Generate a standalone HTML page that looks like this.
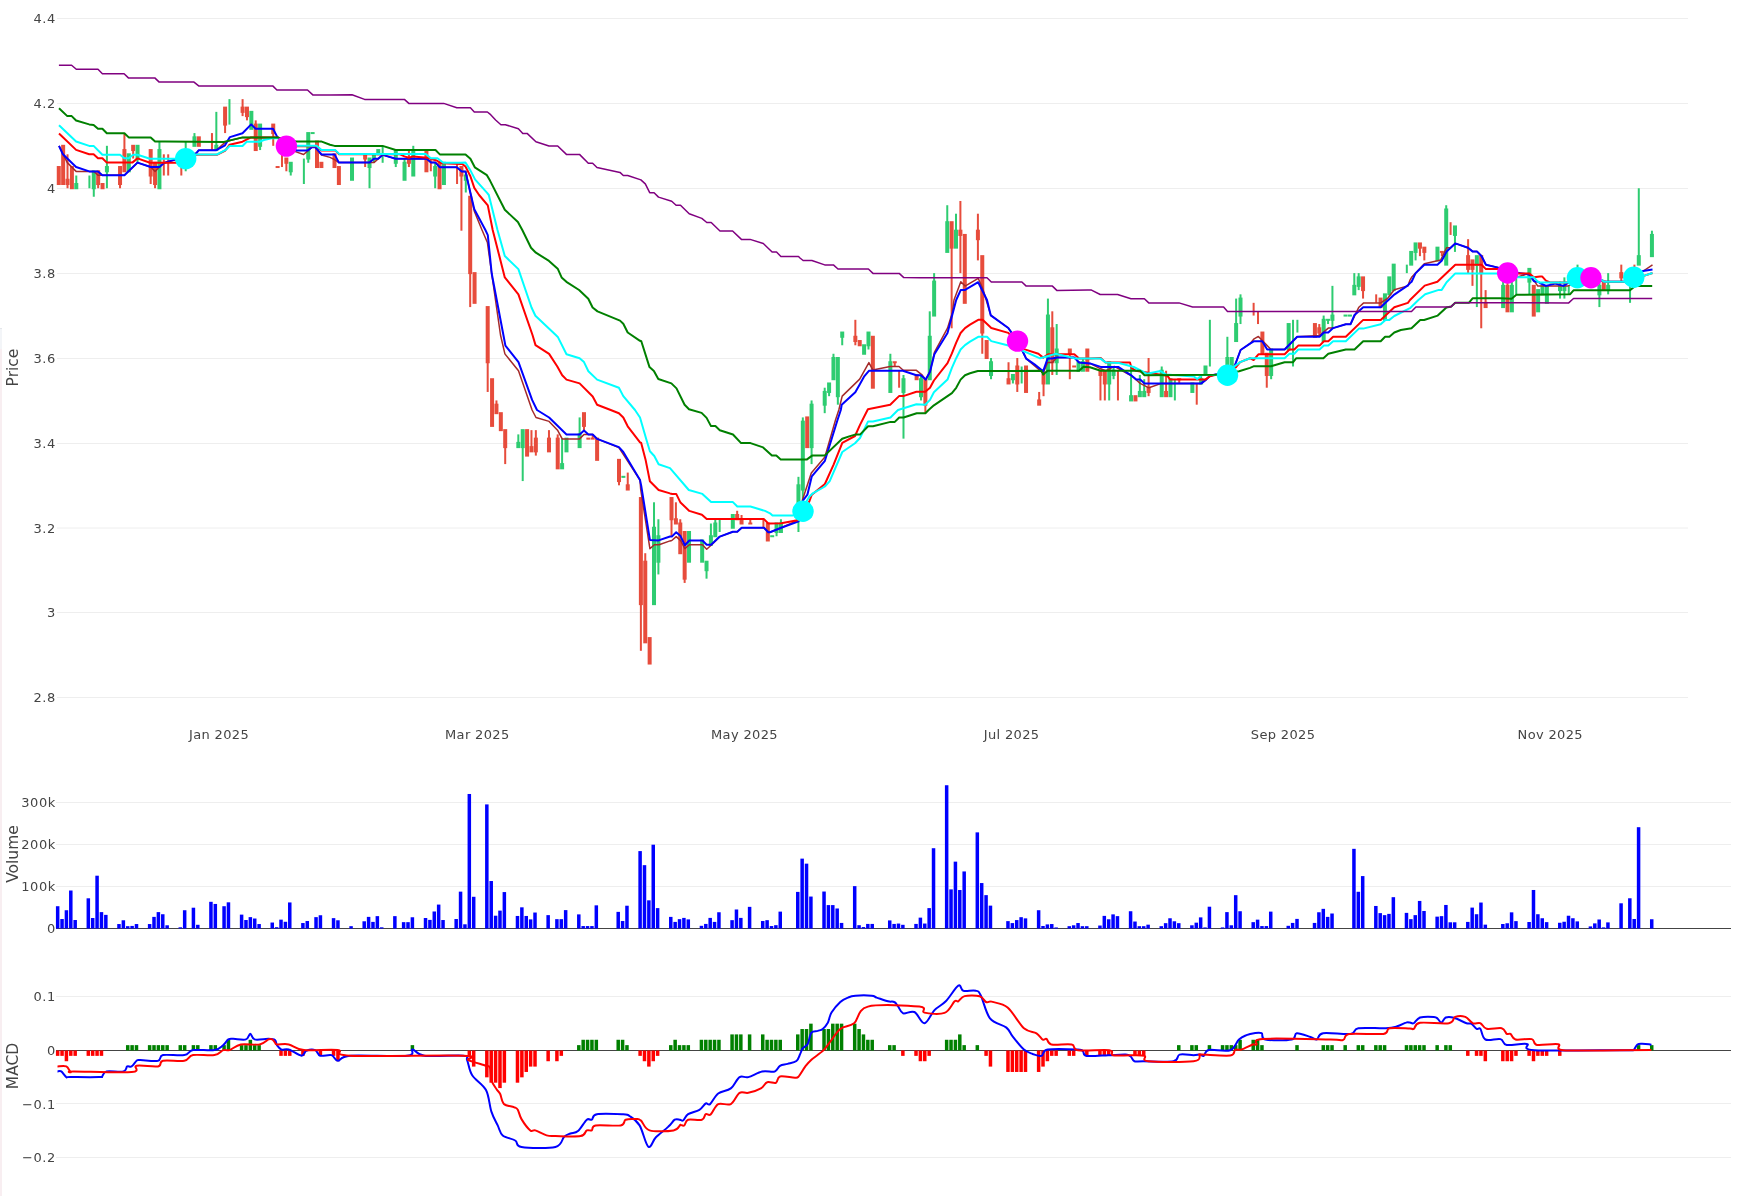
<!DOCTYPE html><html><head><meta charset="utf-8"><title>Chart</title><style>html,body{margin:0;padding:0;background:#fff;overflow:hidden}body{position:relative;width:1752px;height:1196px}</style></head><body><svg width="1752" height="1196" viewBox="0 0 1752 1196" style="display:block">
<rect width="1752" height="1196" fill="#fff"/>
<rect x="0" y="328" width="2" height="1" fill="#e4e6ea"/><rect x="0" y="329" width="2" height="20" fill="#f3f5f8"/><rect x="0" y="349" width="2" height="847" fill="#f8eef1"/>
<line x1="57" x2="1688" y1="18.5" y2="18.5" stroke="#eee" stroke-width="1"/>
<line x1="57" x2="1688" y1="103.5" y2="103.5" stroke="#eee" stroke-width="1"/>
<line x1="57" x2="1688" y1="188.5" y2="188.5" stroke="#eee" stroke-width="1"/>
<line x1="57" x2="1688" y1="273.5" y2="273.5" stroke="#eee" stroke-width="1"/>
<line x1="57" x2="1688" y1="358.5" y2="358.5" stroke="#eee" stroke-width="1"/>
<line x1="57" x2="1688" y1="443.5" y2="443.5" stroke="#eee" stroke-width="1"/>
<line x1="57" x2="1688" y1="528.0" y2="528.0" stroke="#eee" stroke-width="1"/>
<line x1="57" x2="1688" y1="612.5" y2="612.5" stroke="#eee" stroke-width="1"/>
<line x1="57" x2="1688" y1="697.5" y2="697.5" stroke="#eee" stroke-width="1"/>
<line x1="56" x2="1731" y1="886.5" y2="886.5" stroke="#eee" stroke-width="1"/>
<line x1="56" x2="1731" y1="844.5" y2="844.5" stroke="#eee" stroke-width="1"/>
<line x1="56" x2="1731" y1="802.5" y2="802.5" stroke="#eee" stroke-width="1"/>
<line x1="56" x2="1731" y1="996.5" y2="996.5" stroke="#eee" stroke-width="1"/>
<line x1="56" x2="1731" y1="1103.5" y2="1103.5" stroke="#eee" stroke-width="1"/>
<line x1="56" x2="1731" y1="1157.5" y2="1157.5" stroke="#eee" stroke-width="1"/>
<line x1="56" x2="1731" y1="928.5" y2="928.5" stroke="#444" stroke-width="1"/>
<line x1="56" x2="1731" y1="1050.5" y2="1050.5" stroke="#444" stroke-width="1"/>
<rect x="57.77" y="167.03" width="2" height="16.98" fill="#e74c3c"/>
<rect x="56.77" y="166.03" width="4" height="18.98" fill="#e74c3c"/>
<rect x="62.15" y="145.81" width="2" height="38.19" fill="#e74c3c"/>
<rect x="61.15" y="144.81" width="4" height="40.19" fill="#e74c3c"/>
<rect x="66.52" y="154.30" width="2" height="33.95" fill="#e74c3c"/>
<rect x="65.52" y="178.76" width="4" height="6.24" fill="#e74c3c"/>
<rect x="70.90" y="167.03" width="2" height="21.22" fill="#e74c3c"/>
<rect x="69.90" y="166.03" width="4" height="23.22" fill="#e74c3c"/>
<rect x="75.28" y="175.52" width="2" height="12.73" fill="#2ecc71"/>
<rect x="74.28" y="183.01" width="4" height="6.24" fill="#2ecc71"/>
<rect x="88.41" y="175.52" width="2" height="12.73" fill="#2ecc71"/>
<rect x="92.78" y="171.28" width="2" height="25.46" fill="#2ecc71"/>
<rect x="91.78" y="170.28" width="4" height="18.97" fill="#2ecc71"/>
<rect x="97.16" y="171.28" width="2" height="16.97" fill="#e74c3c"/>
<rect x="96.16" y="170.28" width="4" height="14.73" fill="#e74c3c"/>
<rect x="101.54" y="184.01" width="2" height="4.24" fill="#e74c3c"/>
<rect x="100.54" y="183.01" width="4" height="6.24" fill="#e74c3c"/>
<rect x="105.91" y="145.81" width="2" height="42.44" fill="#2ecc71"/>
<rect x="104.91" y="166.03" width="4" height="6.24" fill="#2ecc71"/>
<rect x="119.04" y="167.03" width="2" height="21.22" fill="#e74c3c"/>
<rect x="118.04" y="166.03" width="4" height="18.98" fill="#e74c3c"/>
<rect x="123.42" y="133.08" width="2" height="38.19" fill="#e74c3c"/>
<rect x="122.42" y="149.06" width="4" height="23.22" fill="#e74c3c"/>
<rect x="127.80" y="154.30" width="2" height="16.98" fill="#2ecc71"/>
<rect x="126.80" y="153.30" width="4" height="18.98" fill="#2ecc71"/>
<rect x="132.17" y="145.81" width="2" height="12.73" fill="#e74c3c"/>
<rect x="131.17" y="144.81" width="4" height="6.24" fill="#e74c3c"/>
<rect x="136.55" y="145.81" width="2" height="16.98" fill="#2ecc71"/>
<rect x="135.55" y="144.81" width="4" height="14.73" fill="#2ecc71"/>
<rect x="149.68" y="150.06" width="2" height="33.95" fill="#e74c3c"/>
<rect x="148.68" y="149.06" width="4" height="27.46" fill="#e74c3c"/>
<rect x="154.06" y="162.79" width="2" height="25.46" fill="#e74c3c"/>
<rect x="153.06" y="161.79" width="4" height="23.22" fill="#e74c3c"/>
<rect x="158.43" y="141.57" width="2" height="46.68" fill="#2ecc71"/>
<rect x="157.43" y="149.06" width="4" height="40.19" fill="#2ecc71"/>
<rect x="162.81" y="154.30" width="2" height="21.22" fill="#e74c3c"/>
<rect x="167.19" y="154.30" width="2" height="21.22" fill="#e74c3c"/>
<rect x="180.32" y="167.03" width="2" height="8.49" fill="#e74c3c"/>
<rect x="184.70" y="141.57" width="2" height="29.71" fill="#2ecc71"/>
<rect x="193.45" y="133.08" width="2" height="12.73" fill="#2ecc71"/>
<rect x="192.45" y="136.33" width="4" height="10.49" fill="#2ecc71"/>
<rect x="197.83" y="137.33" width="2" height="8.49" fill="#e74c3c"/>
<rect x="196.83" y="136.33" width="4" height="10.49" fill="#e74c3c"/>
<rect x="210.96" y="133.08" width="2" height="16.98" fill="#e74c3c"/>
<rect x="215.33" y="111.86" width="2" height="38.19" fill="#2ecc71"/>
<rect x="214.33" y="144.81" width="4" height="6.24" fill="#2ecc71"/>
<rect x="224.09" y="107.62" width="2" height="25.46" fill="#e74c3c"/>
<rect x="223.09" y="106.62" width="4" height="18.98" fill="#e74c3c"/>
<rect x="228.46" y="99.13" width="2" height="25.46" fill="#2ecc71"/>
<rect x="241.59" y="99.13" width="2" height="16.98" fill="#e74c3c"/>
<rect x="240.59" y="106.62" width="4" height="6.24" fill="#e74c3c"/>
<rect x="245.97" y="107.62" width="2" height="12.73" fill="#e74c3c"/>
<rect x="244.97" y="106.62" width="4" height="10.49" fill="#e74c3c"/>
<rect x="250.35" y="111.86" width="2" height="16.98" fill="#2ecc71"/>
<rect x="249.35" y="110.86" width="4" height="18.98" fill="#2ecc71"/>
<rect x="254.72" y="120.35" width="2" height="29.71" fill="#e74c3c"/>
<rect x="253.72" y="123.59" width="4" height="27.46" fill="#e74c3c"/>
<rect x="259.10" y="124.59" width="2" height="25.46" fill="#2ecc71"/>
<rect x="258.10" y="123.59" width="4" height="23.22" fill="#2ecc71"/>
<rect x="272.23" y="124.59" width="2" height="21.22" fill="#e74c3c"/>
<rect x="271.23" y="123.59" width="4" height="10.49" fill="#e74c3c"/>
<rect x="276.61" y="167.03" width="2" height="0.50" fill="#e74c3c"/>
<rect x="275.61" y="166.03" width="4" height="2.00" fill="#e74c3c"/>
<rect x="280.99" y="154.30" width="2" height="12.73" fill="#e74c3c"/>
<rect x="285.36" y="158.54" width="2" height="12.73" fill="#e74c3c"/>
<rect x="284.36" y="157.54" width="4" height="6.24" fill="#e74c3c"/>
<rect x="289.74" y="162.79" width="2" height="12.73" fill="#2ecc71"/>
<rect x="288.74" y="161.79" width="4" height="10.49" fill="#2ecc71"/>
<rect x="302.87" y="158.54" width="2" height="25.46" fill="#2ecc71"/>
<rect x="307.25" y="133.08" width="2" height="29.71" fill="#2ecc71"/>
<rect x="306.25" y="132.08" width="4" height="27.46" fill="#2ecc71"/>
<rect x="311.62" y="133.08" width="2" height="0.50" fill="#2ecc71"/>
<rect x="310.62" y="132.08" width="4" height="2.00" fill="#2ecc71"/>
<rect x="316.00" y="141.57" width="2" height="25.46" fill="#e74c3c"/>
<rect x="315.00" y="140.57" width="4" height="27.46" fill="#e74c3c"/>
<rect x="320.38" y="162.79" width="2" height="4.24" fill="#e74c3c"/>
<rect x="319.38" y="161.79" width="4" height="6.24" fill="#e74c3c"/>
<rect x="333.51" y="154.30" width="2" height="12.73" fill="#e74c3c"/>
<rect x="332.51" y="153.30" width="4" height="14.73" fill="#e74c3c"/>
<rect x="337.88" y="167.03" width="2" height="16.98" fill="#e74c3c"/>
<rect x="336.88" y="166.03" width="4" height="18.98" fill="#e74c3c"/>
<rect x="351.01" y="158.54" width="2" height="21.22" fill="#2ecc71"/>
<rect x="350.01" y="157.54" width="4" height="23.22" fill="#2ecc71"/>
<rect x="364.14" y="154.30" width="2" height="12.73" fill="#e74c3c"/>
<rect x="363.14" y="153.30" width="4" height="6.24" fill="#e74c3c"/>
<rect x="368.52" y="158.54" width="2" height="29.71" fill="#2ecc71"/>
<rect x="367.52" y="157.54" width="4" height="10.49" fill="#2ecc71"/>
<rect x="372.90" y="154.30" width="2" height="8.49" fill="#2ecc71"/>
<rect x="371.90" y="153.30" width="4" height="6.24" fill="#2ecc71"/>
<rect x="377.27" y="150.06" width="2" height="4.24" fill="#2ecc71"/>
<rect x="376.27" y="149.06" width="4" height="6.24" fill="#2ecc71"/>
<rect x="381.65" y="145.81" width="2" height="16.98" fill="#2ecc71"/>
<rect x="394.78" y="150.06" width="2" height="16.98" fill="#2ecc71"/>
<rect x="393.78" y="149.06" width="4" height="14.73" fill="#2ecc71"/>
<rect x="403.54" y="158.54" width="2" height="21.22" fill="#2ecc71"/>
<rect x="402.54" y="161.79" width="4" height="18.98" fill="#2ecc71"/>
<rect x="407.91" y="150.06" width="2" height="16.98" fill="#e74c3c"/>
<rect x="406.91" y="157.54" width="4" height="6.24" fill="#e74c3c"/>
<rect x="412.29" y="145.81" width="2" height="29.71" fill="#2ecc71"/>
<rect x="411.29" y="149.06" width="4" height="27.46" fill="#2ecc71"/>
<rect x="425.42" y="150.06" width="2" height="21.22" fill="#e74c3c"/>
<rect x="424.42" y="149.06" width="4" height="23.22" fill="#e74c3c"/>
<rect x="429.80" y="158.54" width="2" height="12.73" fill="#e74c3c"/>
<rect x="434.17" y="162.79" width="2" height="25.46" fill="#2ecc71"/>
<rect x="433.17" y="166.03" width="4" height="10.49" fill="#2ecc71"/>
<rect x="438.55" y="162.79" width="2" height="25.46" fill="#e74c3c"/>
<rect x="437.55" y="161.79" width="4" height="27.46" fill="#e74c3c"/>
<rect x="442.93" y="162.79" width="2" height="21.22" fill="#2ecc71"/>
<rect x="441.93" y="161.79" width="4" height="23.22" fill="#2ecc71"/>
<rect x="456.06" y="162.79" width="2" height="21.22" fill="#e74c3c"/>
<rect x="460.43" y="167.03" width="2" height="63.66" fill="#e74c3c"/>
<rect x="459.43" y="166.03" width="4" height="10.49" fill="#e74c3c"/>
<rect x="464.81" y="171.28" width="2" height="21.22" fill="#2ecc71"/>
<rect x="463.81" y="174.52" width="4" height="6.24" fill="#2ecc71"/>
<rect x="469.19" y="196.74" width="2" height="110.34" fill="#e74c3c"/>
<rect x="468.19" y="195.74" width="4" height="78.39" fill="#e74c3c"/>
<rect x="473.56" y="273.13" width="2" height="29.71" fill="#e74c3c"/>
<rect x="472.56" y="272.13" width="4" height="31.71" fill="#e74c3c"/>
<rect x="486.69" y="307.08" width="2" height="84.88" fill="#e74c3c"/>
<rect x="485.69" y="306.08" width="4" height="57.17" fill="#e74c3c"/>
<rect x="491.07" y="379.22" width="2" height="46.68" fill="#e74c3c"/>
<rect x="490.07" y="378.22" width="4" height="48.68" fill="#e74c3c"/>
<rect x="495.45" y="400.44" width="2" height="12.73" fill="#e74c3c"/>
<rect x="494.45" y="403.68" width="4" height="10.49" fill="#e74c3c"/>
<rect x="499.83" y="413.17" width="2" height="16.98" fill="#e74c3c"/>
<rect x="498.83" y="412.17" width="4" height="18.98" fill="#e74c3c"/>
<rect x="504.20" y="430.14" width="2" height="33.95" fill="#e74c3c"/>
<rect x="503.20" y="429.14" width="4" height="18.98" fill="#e74c3c"/>
<rect x="517.33" y="434.39" width="2" height="12.73" fill="#2ecc71"/>
<rect x="516.33" y="441.88" width="4" height="6.24" fill="#2ecc71"/>
<rect x="521.71" y="430.14" width="2" height="50.93" fill="#2ecc71"/>
<rect x="520.71" y="429.14" width="4" height="18.98" fill="#2ecc71"/>
<rect x="526.09" y="430.14" width="2" height="25.46" fill="#e74c3c"/>
<rect x="525.09" y="429.14" width="4" height="27.46" fill="#e74c3c"/>
<rect x="530.46" y="430.14" width="2" height="21.22" fill="#e74c3c"/>
<rect x="529.46" y="446.12" width="4" height="6.24" fill="#e74c3c"/>
<rect x="534.84" y="430.14" width="2" height="25.46" fill="#e74c3c"/>
<rect x="533.84" y="437.63" width="4" height="14.73" fill="#e74c3c"/>
<rect x="547.97" y="430.14" width="2" height="21.22" fill="#e74c3c"/>
<rect x="546.97" y="437.63" width="4" height="14.73" fill="#e74c3c"/>
<rect x="556.72" y="434.39" width="2" height="33.95" fill="#e74c3c"/>
<rect x="555.72" y="437.63" width="4" height="31.71" fill="#e74c3c"/>
<rect x="561.10" y="438.63" width="2" height="29.71" fill="#2ecc71"/>
<rect x="560.10" y="463.09" width="4" height="6.24" fill="#2ecc71"/>
<rect x="565.48" y="438.63" width="2" height="12.73" fill="#2ecc71"/>
<rect x="564.48" y="437.63" width="4" height="14.73" fill="#2ecc71"/>
<rect x="578.61" y="417.41" width="2" height="29.71" fill="#2ecc71"/>
<rect x="577.61" y="433.39" width="4" height="14.73" fill="#2ecc71"/>
<rect x="582.98" y="413.17" width="2" height="16.98" fill="#e74c3c"/>
<rect x="581.98" y="412.17" width="4" height="14.73" fill="#e74c3c"/>
<rect x="587.36" y="438.63" width="2" height="0.50" fill="#e74c3c"/>
<rect x="586.36" y="437.63" width="4" height="2.00" fill="#e74c3c"/>
<rect x="591.74" y="434.39" width="2" height="4.24" fill="#e74c3c"/>
<rect x="590.74" y="437.63" width="4" height="2.00" fill="#e74c3c"/>
<rect x="596.11" y="438.63" width="2" height="21.22" fill="#e74c3c"/>
<rect x="595.11" y="437.63" width="4" height="23.22" fill="#e74c3c"/>
<rect x="618.00" y="459.85" width="2" height="25.46" fill="#e74c3c"/>
<rect x="617.00" y="458.85" width="4" height="23.22" fill="#e74c3c"/>
<rect x="622.38" y="476.83" width="2" height="0.50" fill="#2ecc71"/>
<rect x="621.38" y="475.83" width="4" height="2.00" fill="#2ecc71"/>
<rect x="626.75" y="472.58" width="2" height="16.98" fill="#e74c3c"/>
<rect x="625.75" y="484.31" width="4" height="6.24" fill="#e74c3c"/>
<rect x="639.88" y="498.04" width="2" height="152.77" fill="#e74c3c"/>
<rect x="638.88" y="497.04" width="4" height="108.09" fill="#e74c3c"/>
<rect x="644.26" y="553.21" width="2" height="89.12" fill="#e74c3c"/>
<rect x="643.26" y="560.70" width="4" height="82.63" fill="#e74c3c"/>
<rect x="648.64" y="638.09" width="2" height="25.46" fill="#e74c3c"/>
<rect x="647.64" y="637.09" width="4" height="27.46" fill="#e74c3c"/>
<rect x="653.01" y="502.29" width="2" height="101.85" fill="#2ecc71"/>
<rect x="652.01" y="526.75" width="4" height="78.39" fill="#2ecc71"/>
<rect x="657.39" y="519.26" width="2" height="55.17" fill="#2ecc71"/>
<rect x="656.39" y="535.24" width="4" height="27.46" fill="#2ecc71"/>
<rect x="670.52" y="498.04" width="2" height="38.19" fill="#e74c3c"/>
<rect x="669.52" y="497.04" width="4" height="23.22" fill="#e74c3c"/>
<rect x="674.90" y="502.29" width="2" height="21.22" fill="#e74c3c"/>
<rect x="673.90" y="518.26" width="4" height="6.24" fill="#e74c3c"/>
<rect x="679.27" y="519.26" width="2" height="33.95" fill="#e74c3c"/>
<rect x="678.27" y="522.51" width="4" height="31.71" fill="#e74c3c"/>
<rect x="683.65" y="531.99" width="2" height="50.93" fill="#e74c3c"/>
<rect x="682.65" y="530.99" width="4" height="48.68" fill="#e74c3c"/>
<rect x="688.03" y="531.99" width="2" height="29.71" fill="#2ecc71"/>
<rect x="687.03" y="530.99" width="4" height="31.71" fill="#2ecc71"/>
<rect x="701.16" y="540.48" width="2" height="21.22" fill="#2ecc71"/>
<rect x="700.16" y="539.48" width="4" height="23.22" fill="#2ecc71"/>
<rect x="705.53" y="561.70" width="2" height="16.97" fill="#2ecc71"/>
<rect x="704.53" y="560.70" width="4" height="10.49" fill="#2ecc71"/>
<rect x="709.91" y="523.51" width="2" height="21.22" fill="#2ecc71"/>
<rect x="708.91" y="535.24" width="4" height="10.49" fill="#2ecc71"/>
<rect x="714.29" y="519.26" width="2" height="16.98" fill="#2ecc71"/>
<rect x="713.29" y="522.51" width="4" height="14.73" fill="#2ecc71"/>
<rect x="718.67" y="519.26" width="2" height="12.73" fill="#2ecc71"/>
<rect x="731.80" y="515.02" width="2" height="12.73" fill="#2ecc71"/>
<rect x="730.80" y="514.02" width="4" height="14.73" fill="#2ecc71"/>
<rect x="736.17" y="510.78" width="2" height="8.49" fill="#e74c3c"/>
<rect x="735.17" y="514.02" width="4" height="6.24" fill="#e74c3c"/>
<rect x="740.55" y="515.02" width="2" height="8.49" fill="#e74c3c"/>
<rect x="739.55" y="518.26" width="4" height="6.24" fill="#e74c3c"/>
<rect x="749.30" y="519.26" width="2" height="4.24" fill="#e74c3c"/>
<rect x="748.30" y="522.51" width="4" height="2.00" fill="#e74c3c"/>
<rect x="762.43" y="519.26" width="2" height="8.49" fill="#e74c3c"/>
<rect x="766.81" y="523.51" width="2" height="16.98" fill="#e74c3c"/>
<rect x="765.81" y="522.51" width="4" height="18.98" fill="#e74c3c"/>
<rect x="771.19" y="536.24" width="2" height="0.50" fill="#2ecc71"/>
<rect x="770.19" y="535.24" width="4" height="2.00" fill="#2ecc71"/>
<rect x="775.56" y="523.51" width="2" height="12.73" fill="#2ecc71"/>
<rect x="774.56" y="522.51" width="4" height="10.49" fill="#2ecc71"/>
<rect x="779.94" y="519.26" width="2" height="12.73" fill="#2ecc71"/>
<rect x="778.94" y="522.51" width="4" height="10.49" fill="#2ecc71"/>
<rect x="797.45" y="476.83" width="2" height="55.17" fill="#2ecc71"/>
<rect x="796.45" y="484.31" width="4" height="35.95" fill="#2ecc71"/>
<rect x="801.82" y="417.41" width="2" height="84.88" fill="#2ecc71"/>
<rect x="800.82" y="420.66" width="4" height="69.90" fill="#2ecc71"/>
<rect x="806.20" y="417.41" width="2" height="29.71" fill="#e74c3c"/>
<rect x="805.20" y="416.41" width="4" height="31.71" fill="#e74c3c"/>
<rect x="810.58" y="400.44" width="2" height="63.66" fill="#2ecc71"/>
<rect x="809.58" y="403.68" width="4" height="44.44" fill="#2ecc71"/>
<rect x="823.71" y="387.71" width="2" height="25.46" fill="#2ecc71"/>
<rect x="822.71" y="390.95" width="4" height="14.73" fill="#2ecc71"/>
<rect x="828.09" y="383.46" width="2" height="12.73" fill="#2ecc71"/>
<rect x="827.09" y="382.46" width="4" height="10.49" fill="#2ecc71"/>
<rect x="832.46" y="353.76" width="2" height="25.46" fill="#2ecc71"/>
<rect x="831.46" y="357.00" width="4" height="23.22" fill="#2ecc71"/>
<rect x="836.84" y="358.00" width="2" height="46.68" fill="#2ecc71"/>
<rect x="835.84" y="357.00" width="4" height="40.19" fill="#2ecc71"/>
<rect x="841.22" y="332.54" width="2" height="12.73" fill="#2ecc71"/>
<rect x="840.22" y="331.54" width="4" height="6.24" fill="#2ecc71"/>
<rect x="854.35" y="319.81" width="2" height="25.46" fill="#e74c3c"/>
<rect x="853.35" y="335.78" width="4" height="6.24" fill="#e74c3c"/>
<rect x="858.72" y="341.03" width="2" height="4.24" fill="#e74c3c"/>
<rect x="857.72" y="340.03" width="4" height="6.24" fill="#e74c3c"/>
<rect x="863.10" y="345.27" width="2" height="8.49" fill="#2ecc71"/>
<rect x="862.10" y="344.27" width="4" height="10.49" fill="#2ecc71"/>
<rect x="867.48" y="332.54" width="2" height="16.98" fill="#2ecc71"/>
<rect x="866.48" y="331.54" width="4" height="14.73" fill="#2ecc71"/>
<rect x="871.85" y="336.78" width="2" height="50.93" fill="#e74c3c"/>
<rect x="870.85" y="335.78" width="4" height="52.93" fill="#e74c3c"/>
<rect x="889.36" y="353.76" width="2" height="38.19" fill="#2ecc71"/>
<rect x="888.36" y="361.24" width="4" height="31.71" fill="#2ecc71"/>
<rect x="893.74" y="362.24" width="2" height="4.24" fill="#e74c3c"/>
<rect x="892.74" y="361.24" width="4" height="2.00" fill="#e74c3c"/>
<rect x="898.11" y="370.73" width="2" height="16.98" fill="#e74c3c"/>
<rect x="902.49" y="374.98" width="2" height="63.66" fill="#2ecc71"/>
<rect x="901.49" y="378.22" width="4" height="14.73" fill="#2ecc71"/>
<rect x="915.62" y="374.98" width="2" height="4.24" fill="#e74c3c"/>
<rect x="914.62" y="373.98" width="4" height="6.24" fill="#e74c3c"/>
<rect x="920.00" y="374.98" width="2" height="25.46" fill="#2ecc71"/>
<rect x="919.00" y="378.22" width="4" height="18.98" fill="#2ecc71"/>
<rect x="924.37" y="379.22" width="2" height="33.95" fill="#e74c3c"/>
<rect x="923.37" y="378.22" width="4" height="27.46" fill="#e74c3c"/>
<rect x="928.75" y="311.32" width="2" height="67.90" fill="#2ecc71"/>
<rect x="927.75" y="335.78" width="4" height="44.44" fill="#2ecc71"/>
<rect x="933.13" y="273.13" width="2" height="42.44" fill="#2ecc71"/>
<rect x="932.13" y="280.61" width="4" height="35.95" fill="#2ecc71"/>
<rect x="946.26" y="205.23" width="2" height="46.68" fill="#2ecc71"/>
<rect x="945.26" y="221.20" width="4" height="31.71" fill="#2ecc71"/>
<rect x="950.64" y="222.20" width="2" height="106.09" fill="#e74c3c"/>
<rect x="949.64" y="221.20" width="4" height="27.46" fill="#e74c3c"/>
<rect x="955.01" y="213.71" width="2" height="33.95" fill="#2ecc71"/>
<rect x="954.01" y="229.69" width="4" height="18.97" fill="#2ecc71"/>
<rect x="959.39" y="200.98" width="2" height="72.14" fill="#e74c3c"/>
<rect x="958.39" y="229.69" width="4" height="6.24" fill="#e74c3c"/>
<rect x="963.77" y="234.93" width="2" height="67.90" fill="#e74c3c"/>
<rect x="962.77" y="233.93" width="4" height="69.90" fill="#e74c3c"/>
<rect x="976.90" y="213.71" width="2" height="46.68" fill="#e74c3c"/>
<rect x="975.90" y="229.69" width="4" height="10.49" fill="#e74c3c"/>
<rect x="981.27" y="256.15" width="2" height="97.61" fill="#e74c3c"/>
<rect x="980.27" y="255.15" width="4" height="78.39" fill="#e74c3c"/>
<rect x="985.65" y="341.03" width="2" height="16.98" fill="#e74c3c"/>
<rect x="984.65" y="340.03" width="4" height="18.98" fill="#e74c3c"/>
<rect x="990.03" y="358.00" width="2" height="21.22" fill="#2ecc71"/>
<rect x="989.03" y="361.24" width="4" height="14.73" fill="#2ecc71"/>
<rect x="1007.53" y="362.24" width="2" height="21.22" fill="#e74c3c"/>
<rect x="1006.53" y="378.22" width="4" height="6.24" fill="#e74c3c"/>
<rect x="1011.91" y="374.98" width="2" height="8.49" fill="#2ecc71"/>
<rect x="1010.91" y="373.98" width="4" height="6.24" fill="#2ecc71"/>
<rect x="1016.29" y="358.00" width="2" height="33.95" fill="#e74c3c"/>
<rect x="1015.29" y="365.49" width="4" height="18.98" fill="#e74c3c"/>
<rect x="1020.66" y="366.49" width="2" height="16.98" fill="#2ecc71"/>
<rect x="1025.04" y="366.49" width="2" height="25.46" fill="#e74c3c"/>
<rect x="1024.04" y="365.49" width="4" height="27.46" fill="#e74c3c"/>
<rect x="1038.17" y="391.95" width="2" height="12.73" fill="#e74c3c"/>
<rect x="1037.17" y="399.44" width="4" height="6.24" fill="#e74c3c"/>
<rect x="1042.55" y="370.73" width="2" height="25.46" fill="#e74c3c"/>
<rect x="1041.55" y="373.98" width="4" height="10.49" fill="#e74c3c"/>
<rect x="1046.93" y="298.59" width="2" height="84.88" fill="#2ecc71"/>
<rect x="1045.93" y="314.56" width="4" height="69.90" fill="#2ecc71"/>
<rect x="1051.30" y="311.32" width="2" height="63.66" fill="#e74c3c"/>
<rect x="1050.30" y="327.29" width="4" height="35.95" fill="#e74c3c"/>
<rect x="1055.68" y="324.05" width="2" height="50.93" fill="#2ecc71"/>
<rect x="1054.68" y="348.51" width="4" height="14.73" fill="#2ecc71"/>
<rect x="1068.81" y="349.51" width="2" height="29.71" fill="#e74c3c"/>
<rect x="1067.81" y="348.51" width="4" height="6.24" fill="#e74c3c"/>
<rect x="1073.19" y="366.49" width="2" height="0.50" fill="#e74c3c"/>
<rect x="1072.19" y="365.49" width="4" height="2.00" fill="#e74c3c"/>
<rect x="1077.56" y="362.24" width="2" height="8.49" fill="#2ecc71"/>
<rect x="1076.56" y="361.24" width="4" height="10.49" fill="#2ecc71"/>
<rect x="1081.94" y="358.00" width="2" height="12.73" fill="#2ecc71"/>
<rect x="1080.94" y="361.24" width="4" height="10.49" fill="#2ecc71"/>
<rect x="1086.32" y="349.51" width="2" height="21.22" fill="#e74c3c"/>
<rect x="1085.32" y="348.51" width="4" height="23.22" fill="#e74c3c"/>
<rect x="1099.45" y="370.73" width="2" height="29.71" fill="#e74c3c"/>
<rect x="1098.45" y="369.73" width="4" height="6.24" fill="#e74c3c"/>
<rect x="1103.82" y="370.73" width="2" height="29.71" fill="#e74c3c"/>
<rect x="1102.82" y="369.73" width="4" height="14.73" fill="#e74c3c"/>
<rect x="1108.20" y="362.24" width="2" height="38.19" fill="#2ecc71"/>
<rect x="1107.20" y="361.24" width="4" height="23.22" fill="#2ecc71"/>
<rect x="1112.58" y="366.49" width="2" height="12.73" fill="#2ecc71"/>
<rect x="1111.58" y="369.73" width="4" height="6.24" fill="#2ecc71"/>
<rect x="1116.95" y="370.73" width="2" height="29.71" fill="#e74c3c"/>
<rect x="1130.08" y="366.49" width="2" height="33.95" fill="#2ecc71"/>
<rect x="1129.08" y="395.19" width="4" height="6.24" fill="#2ecc71"/>
<rect x="1134.46" y="396.19" width="2" height="4.24" fill="#e74c3c"/>
<rect x="1133.46" y="395.19" width="4" height="6.24" fill="#e74c3c"/>
<rect x="1138.84" y="374.98" width="2" height="21.22" fill="#2ecc71"/>
<rect x="1137.84" y="390.95" width="4" height="6.24" fill="#2ecc71"/>
<rect x="1143.21" y="379.22" width="2" height="16.98" fill="#2ecc71"/>
<rect x="1142.21" y="390.95" width="4" height="6.24" fill="#2ecc71"/>
<rect x="1147.59" y="358.00" width="2" height="38.19" fill="#e74c3c"/>
<rect x="1146.59" y="386.71" width="4" height="6.24" fill="#e74c3c"/>
<rect x="1160.72" y="366.49" width="2" height="29.71" fill="#2ecc71"/>
<rect x="1159.72" y="369.73" width="4" height="27.46" fill="#2ecc71"/>
<rect x="1165.10" y="370.73" width="2" height="25.46" fill="#e74c3c"/>
<rect x="1164.10" y="390.95" width="4" height="6.24" fill="#e74c3c"/>
<rect x="1169.48" y="379.22" width="2" height="16.98" fill="#2ecc71"/>
<rect x="1168.48" y="378.22" width="4" height="18.98" fill="#2ecc71"/>
<rect x="1173.85" y="379.22" width="2" height="21.22" fill="#2ecc71"/>
<rect x="1178.23" y="379.22" width="2" height="4.24" fill="#e74c3c"/>
<rect x="1177.23" y="378.22" width="4" height="2.00" fill="#e74c3c"/>
<rect x="1191.36" y="383.46" width="2" height="8.49" fill="#2ecc71"/>
<rect x="1190.36" y="382.46" width="4" height="10.49" fill="#2ecc71"/>
<rect x="1195.74" y="383.46" width="2" height="21.22" fill="#e74c3c"/>
<rect x="1200.11" y="374.98" width="2" height="8.49" fill="#2ecc71"/>
<rect x="1199.11" y="378.22" width="4" height="6.24" fill="#2ecc71"/>
<rect x="1204.49" y="366.49" width="2" height="8.49" fill="#2ecc71"/>
<rect x="1203.49" y="365.49" width="4" height="10.49" fill="#2ecc71"/>
<rect x="1208.87" y="319.81" width="2" height="46.68" fill="#2ecc71"/>
<rect x="1226.37" y="336.78" width="2" height="38.19" fill="#2ecc71"/>
<rect x="1225.37" y="357.00" width="4" height="10.49" fill="#2ecc71"/>
<rect x="1230.75" y="358.00" width="2" height="8.49" fill="#2ecc71"/>
<rect x="1229.75" y="357.00" width="4" height="10.49" fill="#2ecc71"/>
<rect x="1235.13" y="298.59" width="2" height="42.44" fill="#2ecc71"/>
<rect x="1234.13" y="323.05" width="4" height="18.98" fill="#2ecc71"/>
<rect x="1239.50" y="294.34" width="2" height="29.71" fill="#2ecc71"/>
<rect x="1238.50" y="297.59" width="4" height="18.98" fill="#2ecc71"/>
<rect x="1252.63" y="302.83" width="2" height="12.73" fill="#e74c3c"/>
<rect x="1257.01" y="311.32" width="2" height="12.73" fill="#e74c3c"/>
<rect x="1261.39" y="332.54" width="2" height="21.22" fill="#e74c3c"/>
<rect x="1260.39" y="331.54" width="4" height="23.22" fill="#e74c3c"/>
<rect x="1265.77" y="353.76" width="2" height="33.95" fill="#e74c3c"/>
<rect x="1264.77" y="352.76" width="4" height="23.22" fill="#e74c3c"/>
<rect x="1270.14" y="349.51" width="2" height="29.71" fill="#2ecc71"/>
<rect x="1269.14" y="348.51" width="4" height="27.46" fill="#2ecc71"/>
<rect x="1287.65" y="324.05" width="2" height="25.46" fill="#2ecc71"/>
<rect x="1286.65" y="323.05" width="4" height="27.46" fill="#2ecc71"/>
<rect x="1292.03" y="319.81" width="2" height="46.68" fill="#2ecc71"/>
<rect x="1296.40" y="319.81" width="2" height="12.73" fill="#2ecc71"/>
<rect x="1313.91" y="324.05" width="2" height="12.73" fill="#e74c3c"/>
<rect x="1312.91" y="323.05" width="4" height="14.73" fill="#e74c3c"/>
<rect x="1318.29" y="324.05" width="2" height="12.73" fill="#e74c3c"/>
<rect x="1317.29" y="327.29" width="4" height="6.24" fill="#e74c3c"/>
<rect x="1322.66" y="315.56" width="2" height="25.46" fill="#2ecc71"/>
<rect x="1321.66" y="318.81" width="4" height="23.22" fill="#2ecc71"/>
<rect x="1327.04" y="319.81" width="2" height="4.24" fill="#2ecc71"/>
<rect x="1326.04" y="318.81" width="4" height="2.00" fill="#2ecc71"/>
<rect x="1331.42" y="285.86" width="2" height="42.44" fill="#2ecc71"/>
<rect x="1330.42" y="314.56" width="4" height="6.24" fill="#2ecc71"/>
<rect x="1344.55" y="315.56" width="2" height="0.50" fill="#2ecc71"/>
<rect x="1343.55" y="314.56" width="4" height="2.00" fill="#2ecc71"/>
<rect x="1348.92" y="315.56" width="2" height="0.50" fill="#2ecc71"/>
<rect x="1347.92" y="314.56" width="4" height="2.00" fill="#2ecc71"/>
<rect x="1353.30" y="273.13" width="2" height="21.22" fill="#2ecc71"/>
<rect x="1352.30" y="284.86" width="4" height="10.49" fill="#2ecc71"/>
<rect x="1357.68" y="273.13" width="2" height="16.98" fill="#2ecc71"/>
<rect x="1356.68" y="276.37" width="4" height="10.49" fill="#2ecc71"/>
<rect x="1362.05" y="277.37" width="2" height="21.22" fill="#e74c3c"/>
<rect x="1361.05" y="276.37" width="4" height="14.73" fill="#e74c3c"/>
<rect x="1375.19" y="294.34" width="2" height="8.49" fill="#e74c3c"/>
<rect x="1379.56" y="298.59" width="2" height="8.49" fill="#e74c3c"/>
<rect x="1378.56" y="297.59" width="4" height="10.49" fill="#e74c3c"/>
<rect x="1383.94" y="294.34" width="2" height="25.46" fill="#2ecc71"/>
<rect x="1382.94" y="293.34" width="4" height="27.46" fill="#2ecc71"/>
<rect x="1388.32" y="277.37" width="2" height="16.98" fill="#2ecc71"/>
<rect x="1387.32" y="276.37" width="4" height="18.98" fill="#2ecc71"/>
<rect x="1392.69" y="264.64" width="2" height="25.46" fill="#2ecc71"/>
<rect x="1391.69" y="263.64" width="4" height="27.46" fill="#2ecc71"/>
<rect x="1405.82" y="264.64" width="2" height="8.49" fill="#2ecc71"/>
<rect x="1410.20" y="251.91" width="2" height="12.73" fill="#2ecc71"/>
<rect x="1409.20" y="250.91" width="4" height="14.73" fill="#2ecc71"/>
<rect x="1414.58" y="243.42" width="2" height="16.98" fill="#2ecc71"/>
<rect x="1413.58" y="242.42" width="4" height="10.49" fill="#2ecc71"/>
<rect x="1418.95" y="243.42" width="2" height="12.73" fill="#e74c3c"/>
<rect x="1417.95" y="242.42" width="4" height="6.24" fill="#e74c3c"/>
<rect x="1423.33" y="247.66" width="2" height="12.73" fill="#e74c3c"/>
<rect x="1422.33" y="246.66" width="4" height="6.24" fill="#e74c3c"/>
<rect x="1436.46" y="247.66" width="2" height="12.73" fill="#2ecc71"/>
<rect x="1435.46" y="246.66" width="4" height="14.73" fill="#2ecc71"/>
<rect x="1440.84" y="251.91" width="2" height="4.24" fill="#e74c3c"/>
<rect x="1439.84" y="250.91" width="4" height="2.00" fill="#e74c3c"/>
<rect x="1445.21" y="205.23" width="2" height="59.41" fill="#2ecc71"/>
<rect x="1444.21" y="208.47" width="4" height="57.17" fill="#2ecc71"/>
<rect x="1449.59" y="222.20" width="2" height="12.73" fill="#e74c3c"/>
<rect x="1453.97" y="226.44" width="2" height="25.46" fill="#2ecc71"/>
<rect x="1452.97" y="225.44" width="4" height="10.49" fill="#2ecc71"/>
<rect x="1467.10" y="239.18" width="2" height="33.95" fill="#e74c3c"/>
<rect x="1466.10" y="255.15" width="4" height="14.73" fill="#e74c3c"/>
<rect x="1471.47" y="260.39" width="2" height="25.46" fill="#e74c3c"/>
<rect x="1470.47" y="259.39" width="4" height="10.49" fill="#e74c3c"/>
<rect x="1475.85" y="256.15" width="2" height="50.92" fill="#2ecc71"/>
<rect x="1474.85" y="255.15" width="4" height="10.49" fill="#2ecc71"/>
<rect x="1480.23" y="256.15" width="2" height="72.14" fill="#e74c3c"/>
<rect x="1479.23" y="255.15" width="4" height="18.98" fill="#e74c3c"/>
<rect x="1484.61" y="290.10" width="2" height="16.97" fill="#e74c3c"/>
<rect x="1483.61" y="301.83" width="4" height="6.24" fill="#e74c3c"/>
<rect x="1502.11" y="281.61" width="2" height="25.46" fill="#2ecc71"/>
<rect x="1501.11" y="284.86" width="4" height="23.22" fill="#2ecc71"/>
<rect x="1506.49" y="281.61" width="2" height="29.71" fill="#e74c3c"/>
<rect x="1505.49" y="284.86" width="4" height="27.46" fill="#e74c3c"/>
<rect x="1510.87" y="281.61" width="2" height="29.71" fill="#2ecc71"/>
<rect x="1509.87" y="284.86" width="4" height="27.46" fill="#2ecc71"/>
<rect x="1515.24" y="277.37" width="2" height="16.98" fill="#2ecc71"/>
<rect x="1528.37" y="268.88" width="2" height="25.46" fill="#2ecc71"/>
<rect x="1527.37" y="267.88" width="4" height="14.73" fill="#2ecc71"/>
<rect x="1532.75" y="285.86" width="2" height="29.71" fill="#e74c3c"/>
<rect x="1531.75" y="284.86" width="4" height="31.71" fill="#e74c3c"/>
<rect x="1537.13" y="290.10" width="2" height="21.22" fill="#2ecc71"/>
<rect x="1536.13" y="289.10" width="4" height="23.22" fill="#2ecc71"/>
<rect x="1541.50" y="285.86" width="2" height="8.49" fill="#2ecc71"/>
<rect x="1540.50" y="284.86" width="4" height="10.49" fill="#2ecc71"/>
<rect x="1545.88" y="285.86" width="2" height="16.98" fill="#2ecc71"/>
<rect x="1544.88" y="284.86" width="4" height="18.98" fill="#2ecc71"/>
<rect x="1559.01" y="281.61" width="2" height="16.97" fill="#2ecc71"/>
<rect x="1558.01" y="284.86" width="4" height="6.24" fill="#2ecc71"/>
<rect x="1563.39" y="277.37" width="2" height="21.22" fill="#2ecc71"/>
<rect x="1562.39" y="284.86" width="4" height="6.24" fill="#2ecc71"/>
<rect x="1567.76" y="285.86" width="2" height="8.49" fill="#2ecc71"/>
<rect x="1576.52" y="264.64" width="2" height="12.73" fill="#2ecc71"/>
<rect x="1598.40" y="273.13" width="2" height="33.95" fill="#2ecc71"/>
<rect x="1597.40" y="284.86" width="4" height="10.49" fill="#2ecc71"/>
<rect x="1602.78" y="281.61" width="2" height="8.49" fill="#e74c3c"/>
<rect x="1601.78" y="280.61" width="4" height="10.49" fill="#e74c3c"/>
<rect x="1607.16" y="273.13" width="2" height="21.22" fill="#2ecc71"/>
<rect x="1606.16" y="284.86" width="4" height="6.24" fill="#2ecc71"/>
<rect x="1620.29" y="264.64" width="2" height="16.98" fill="#e74c3c"/>
<rect x="1619.29" y="272.13" width="4" height="6.24" fill="#e74c3c"/>
<rect x="1629.04" y="281.61" width="2" height="21.22" fill="#2ecc71"/>
<rect x="1633.42" y="264.64" width="2" height="12.73" fill="#e74c3c"/>
<rect x="1632.42" y="267.88" width="4" height="6.24" fill="#e74c3c"/>
<rect x="1637.79" y="188.25" width="2" height="76.39" fill="#2ecc71"/>
<rect x="1636.79" y="255.15" width="4" height="10.49" fill="#2ecc71"/>
<rect x="1650.92" y="230.69" width="2" height="25.46" fill="#2ecc71"/>
<rect x="1649.92" y="233.93" width="4" height="23.22" fill="#2ecc71"/>
<polyline points="59.0,145.9 67.3,162.6 76.1,171.4 93.6,171.4 98.0,175.3 102.4,175.3 124.4,175.3 137.5,162.6 150.7,167.0 155.1,171.4 159.5,167.0 163.9,163.0 196.4,153.1 198.8,150.2 216.3,150.2 225.0,142.4 229.9,140.5 242.5,137.5 251.2,137.5 273.0,137.5 277.4,137.5 286.1,148.2 296.8,152.1 303.6,154.5 307.5,151.1 311.9,147.2 315.2,147.2 321.6,155.0 330.0,157.4 334.6,159.7 338.9,162.6 369.5,162.6 373.9,162.6 382.6,154.9 395.7,158.7 426.7,158.7 431.1,162.6 435.5,162.6 439.8,167.3 456.8,167.3 461.7,171.4 465.5,171.4 470.9,195.0 474.3,211.2 482.0,230.0 487.4,242.5 491.7,273.5 500.5,335.0 504.9,353.9 518.5,370.8 532.1,410.0 536.0,417.5 549.1,421.4 557.8,430.6 562.2,438.9 579.6,438.9 584.0,434.5 588.4,434.5 592.7,434.5 597.1,438.9 618.9,447.6 640.0,480.0 640.7,489.5 649.9,548.7 654.3,544.8 659.1,544.8 670.0,540.9 671.8,540.5 676.2,536.6 680.5,540.5 684.9,548.7 689.3,544.8 702.4,544.8 706.7,549.2 711.1,545.3 719.8,536.6 732.9,531.7 737.3,531.7 741.7,527.8 764.0,527.8 768.3,532.2 770.0,532.2 781.2,527.7 798.7,519.9 802.6,499.6 811.3,472.9 824.9,456.9 835.5,420.0 838.8,410.0 842.2,396.1 859.7,379.1 868.9,362.6 872.8,369.9 890.2,366.5 899.0,366.5 903.3,370.3 916.4,370.3 922.3,375.2 925.7,379.6 930.0,371.8 934.4,352.4 947.5,328.1 952.3,312.6 954.0,300.0 960.8,281.7 965.1,286.1 978.2,278.3 982.1,287.0 983.1,289.7 990.8,315.4 1008.3,328.0 1017.5,341.1 1026.2,358.6 1043.2,373.1 1047.6,362.5 1052.4,362.5 1056.8,357.6 1074.3,357.6 1079.1,362.5 1090.0,363.4 1100.7,368.8 1105.5,370.8 1114.3,366.4 1130.0,375.1 1130.5,374.7 1140.2,383.4 1148.9,387.8 1161.5,383.4 1201.3,383.4 1206.1,379.6 1210.0,375.7 1227.5,371.8 1234.3,367.0 1240.6,350.0 1250.0,343.7 1254.1,338.8 1258.4,336.4 1271.0,349.5 1284.6,349.5 1297.2,336.8 1319.6,335.4 1328.3,328.1 1333.1,328.1 1345.8,324.2 1350.6,324.2 1358.9,307.2 1363.7,302.9 1380.7,302.9 1387.5,298.5 1394.3,289.8 1407.9,285.9 1410.0,280.1 1411.6,277.3 1424.3,263.7 1440.8,259.9 1446.6,247.7 1450.5,247.7 1455.3,243.4 1467.9,247.7 1472.8,251.6 1477.1,251.6 1481.5,256.0 1485.9,264.7 1498.0,267.6 1507.7,272.5 1518.4,276.8 1529.1,273.4 1537.8,286.1 1540.0,285.9 1568.0,285.9 1577.0,283.0 1591.0,281.0 1602.0,280.5 1603.8,281.8 1624.3,281.8 1634.4,277.0 1652.5,264.9" fill="none" stroke="brown" stroke-width="1.5" stroke-linejoin="round"/>
<polyline points="59.0,145.9 62.9,154.3 76.1,167.0 89.2,171.4 98.0,171.4 102.4,175.3 124.4,175.3 137.5,162.6 150.7,167.0 159.5,167.0 163.9,163.0 196.4,153.1 198.8,150.2 216.3,150.2 225.0,145.3 229.9,137.1 242.5,133.2 251.2,124.4 255.6,128.8 273.0,128.8 277.4,137.1 286.1,144.3 296.8,150.6 307.5,150.6 311.9,147.2 315.2,147.2 321.6,154.5 330.0,154.5 334.6,154.4 338.9,162.6 369.5,162.6 373.9,158.7 378.2,158.7 382.6,154.9 395.7,158.7 426.7,158.7 431.1,162.6 435.5,162.6 439.8,167.3 456.8,167.3 461.7,171.4 465.5,171.4 470.9,195.0 474.3,209.3 485.4,230.0 487.8,235.2 491.7,273.5 503.4,335.0 505.4,345.6 518.5,362.1 532.1,399.9 537.0,410.0 549.1,417.5 566.5,434.5 579.6,434.5 584.0,430.6 588.4,434.5 592.7,434.5 597.1,438.9 618.9,447.1 623.3,452.0 640.0,480.0 641.2,485.6 649.9,539.9 658.6,540.4 670.0,536.5 671.8,536.6 676.2,532.2 680.5,536.1 684.9,545.3 689.3,540.5 702.4,540.5 706.7,544.8 711.1,544.8 719.8,536.6 732.9,531.7 737.3,531.7 741.7,527.8 764.0,527.8 768.3,532.2 770.0,532.2 781.2,527.7 798.7,521.4 803.0,500.5 807.4,494.7 811.8,476.3 824.9,460.8 837.5,420.0 840.8,410.0 841.7,404.8 855.3,392.2 859.7,384.4 864.0,376.7 868.9,370.8 902.9,370.8 916.4,375.2 920.8,375.2 925.7,379.6 930.0,371.8 934.4,354.3 947.5,333.0 956.2,300.0 960.8,289.9 965.1,289.9 978.2,282.2 987.0,300.0 990.8,315.4 1008.3,328.0 1017.5,341.1 1022.9,351.8 1026.2,358.6 1034.5,364.4 1043.2,371.2 1047.6,358.6 1052.4,358.6 1056.8,357.6 1074.3,357.6 1079.1,362.5 1090.0,363.4 1100.7,366.9 1118.2,366.9 1130.0,374.6 1130.5,374.7 1136.3,379.6 1140.2,379.6 1144.5,383.4 1201.3,383.4 1206.1,379.6 1210.0,375.7 1227.5,371.8 1234.3,367.0 1240.6,350.0 1250.0,343.7 1254.1,341.2 1262.3,341.2 1267.2,349.5 1284.6,349.5 1297.2,336.8 1319.6,336.8 1323.9,332.5 1328.3,332.5 1333.1,328.1 1345.8,324.2 1350.6,324.2 1354.5,315.0 1363.2,307.2 1380.7,307.2 1394.3,294.6 1407.9,285.4 1410.0,283.0 1411.6,281.7 1415.5,273.4 1424.3,264.7 1437.4,264.7 1441.7,260.8 1446.6,251.6 1455.3,243.4 1467.9,247.7 1472.8,251.6 1477.1,251.6 1481.5,256.0 1485.9,264.7 1498.0,267.6 1507.7,271.5 1529.1,274.4 1533.9,281.2 1537.8,281.7 1540.0,283.0 1545.9,285.9 1555.3,283.6 1563.4,285.9 1568.0,283.0 1577.0,281.5 1591.0,280.5 1602.0,280.1 1603.8,281.8 1624.3,281.8 1634.4,278.0 1643.0,270.9 1652.5,269.5" fill="none" stroke="blue" stroke-width="2" stroke-linejoin="round"/>
<polyline points="59.0,133.5 76.1,149.9 89.2,154.3 93.6,154.3 98.0,158.2 102.4,158.2 106.8,162.6 132.3,162.6 137.5,158.4 150.0,162.7 175.7,162.7 185.7,158.6 196.2,154.8 216.8,154.8 225.3,150.5 229.6,144.7 242.5,141.7 251.0,137.4 278.0,137.4 286.4,146.2 296.4,146.2 316.5,146.2 321.5,150.4 335.3,150.4 339.1,154.2 400.0,154.3 404.4,156.4 408.8,157.7 413.2,156.4 427.0,157.7 435.8,160.2 442.0,163.3 460.9,164.0 461.7,163.6 465.5,166.5 470.4,176.2 474.3,187.9 479.1,195.0 487.8,205.4 492.7,230.0 504.8,277.4 518.4,294.4 532.5,335.0 535.5,345.1 549.1,353.9 557.3,366.5 562.2,375.2 566.5,379.6 579.6,383.4 592.7,396.5 597.1,404.8 610.7,410.0 618.9,413.2 623.3,417.5 627.7,426.3 640.0,442.3 641.2,442.9 645.5,459.4 649.9,481.2 658.6,490.0 670.0,493.4 672.3,493.9 676.2,493.9 680.5,502.6 689.3,510.9 701.9,514.7 706.7,519.1 764.0,519.1 768.3,523.5 770.0,523.5 781.2,523.3 798.7,519.9 809.3,501.5 811.8,494.7 824.9,484.0 833.6,464.6 842.3,442.8 855.0,436.0 860.0,424.9 867.9,409.2 890.2,404.8 899.0,396.1 903.3,396.1 916.4,391.7 925.2,391.7 930.0,387.8 933.9,380.5 947.5,363.1 951.9,353.4 956.2,342.7 960.6,333.0 965.0,328.1 970.0,324.7 978.2,319.8 982.6,319.8 991.3,328.0 1008.3,332.9 1017.0,342.1 1024.8,349.4 1038.4,353.7 1043.2,357.6 1048.1,354.2 1074.3,354.2 1079.1,358.6 1090.0,358.6 1100.7,358.1 1105.5,362.5 1130.0,362.5 1131.4,367.9 1135.8,370.8 1167.3,375.7 1170.2,379.6 1205.2,379.6 1210.0,376.2 1227.5,371.8 1236.2,367.0 1240.1,362.1 1250.0,358.2 1253.6,360.0 1258.4,354.3 1284.6,354.3 1289.5,349.5 1294.3,349.5 1298.2,345.6 1319.6,345.6 1323.9,341.2 1328.3,341.2 1333.1,336.8 1345.8,336.8 1363.2,319.9 1380.7,319.9 1394.3,307.2 1407.9,302.9 1410.0,300.0 1424.7,285.6 1437.4,281.7 1455.3,264.7 1481.5,264.7 1485.9,269.1 1498.0,269.1 1518.4,273.4 1529.1,273.4 1533.9,277.3 1540.0,276.6 1542.3,276.6 1545.9,280.7 1550.0,282.4 1566.9,282.4 1577.0,281.5 1591.0,280.5 1602.0,280.1 1603.8,281.8 1624.3,281.8 1634.4,279.0 1645.3,275.4 1652.5,273.0" fill="none" stroke="red" stroke-width="2" stroke-linejoin="round"/>
<polyline points="59.0,125.3 76.1,141.5 89.2,145.9 93.6,145.9 102.4,154.7 120.0,154.7 124.4,158.2 128.7,158.2 133.1,154.7 137.5,154.7 150.0,158.8 175.7,158.8 185.7,156.6 196.2,154.5 216.8,154.5 225.3,150.2 229.6,146.0 242.5,146.0 246.7,141.7 259.6,141.7 263.9,140.0 271.6,138.3 278.4,138.3 286.4,146.0 296.4,145.7 316.5,145.7 321.5,150.1 335.3,150.1 339.1,153.9 425.7,153.9 430.8,158.3 437.5,158.3 443.3,162.7 460.5,162.7 465.5,162.6 470.4,170.4 475.2,179.6 486.9,192.7 488.8,195.0 497.5,230.0 504.8,256.0 518.4,269.1 531.5,307.5 535.4,315.7 555.8,335.0 557.8,336.9 566.5,354.3 579.6,358.2 584.0,362.1 588.4,371.3 597.1,379.6 618.9,387.8 623.3,396.1 635.0,410.0 640.0,417.5 646.5,440.0 649.9,451.2 654.3,456.0 658.6,464.3 670.0,468.1 688.8,490.0 702.4,493.9 711.1,502.1 732.9,502.1 737.3,506.5 750.4,506.5 765.0,510.9 770.0,513.3 772.5,515.6 792.9,515.6 803.0,507.3 809.3,496.7 812.3,493.7 824.9,486.5 829.7,481.1 842.3,452.0 855.0,443.3 860.0,438.0 868.1,421.4 873.0,421.4 890.5,417.5 898.0,410.0 916.4,404.3 925.2,404.8 930.0,399.9 933.9,392.2 947.5,379.6 951.9,367.9 956.2,358.2 960.6,349.5 965.0,345.1 970.0,341.7 978.2,336.8 987.0,336.8 991.3,341.1 1006.4,345.0 1017.0,347.9 1022.9,350.8 1038.4,357.6 1040.0,358.3 1056.0,353.7 1074.8,358.4 1100.2,358.4 1105.6,362.4 1119.0,363.0 1133.7,367.0 1147.0,373.7 1160.4,371.0 1165.8,374.4 1193.9,376.4 1197.2,379.1 1202.0,375.0 1215.0,375.0 1227.5,371.8 1240.1,362.1 1250.0,358.2 1253.6,358.2 1284.6,358.2 1289.5,353.8 1294.3,353.8 1298.2,349.5 1319.6,349.5 1323.9,345.6 1328.3,345.6 1333.1,341.2 1345.8,341.2 1358.9,328.6 1363.2,328.6 1380.7,324.2 1385.5,319.9 1389.4,319.9 1394.3,316.0 1410.0,308.2 1418.4,300.0 1425.2,294.3 1438.8,289.9 1441.7,289.9 1446.6,282.2 1455.3,273.4 1497.0,273.4 1518.4,277.3 1533.9,277.3 1537.8,281.7 1540.0,282.4 1566.9,282.4 1577.0,281.5 1591.0,280.5 1602.0,280.1 1603.8,281.8 1624.3,281.8 1634.4,279.0 1645.3,275.4 1652.5,273.0" fill="none" stroke="cyan" stroke-width="2" stroke-linejoin="round"/>
<polyline points="59.0,108.2 67.3,116.1 71.7,116.1 76.1,120.5 89.2,124.4 93.6,124.9 98.0,128.8 102.4,128.8 106.8,133.2 124.4,133.2 128.7,137.4 150.7,137.4 155.1,141.5 165.0,141.5 224.0,141.9 242.5,137.4 277.4,137.4 295.8,141.4 321.1,141.4 330.0,144.8 334.6,145.9 382.6,145.9 395.7,150.0 435.5,150.0 439.8,154.4 465.5,154.4 470.4,158.7 474.8,167.3 486.9,175.2 490.0,180.6 504.8,209.8 517.9,221.9 522.3,230.0 531.0,247.8 535.9,252.7 549.0,260.9 557.7,268.7 561.6,277.4 566.4,281.8 579.1,290.0 588.3,298.7 592.6,307.5 597.5,311.4 620.0,320.6 623.3,323.8 627.7,332.5 640.0,340.8 641.3,341.3 649.5,367.1 653.9,370.9 658.3,379.0 671.4,383.4 676.5,388.4 684.6,404.8 689.0,409.2 701.6,412.9 706.6,417.9 711.0,426.1 715.4,426.1 719.8,430.2 733.0,434.5 741.1,443.1 750.5,443.1 763.1,447.4 771.9,455.6 776.3,455.6 780.7,459.4 807.0,459.4 812.1,455.6 824.6,455.6 842.2,438.7 850.0,436.1 855.0,434.6 860.0,434.6 868.1,426.3 873.0,426.3 890.5,421.9 894.8,421.9 899.2,417.5 903.6,417.5 916.7,413.2 925.4,413.2 928.6,410.0 933.9,405.3 947.5,396.1 951.9,393.1 956.2,387.8 960.6,379.6 965.0,375.2 970.0,373.3 977.8,371.0 1010.0,371.0 1041.3,370.7 1043.2,374.6 1047.6,370.7 1079.1,370.7 1083.5,366.8 1090.0,367.3 1100.7,370.8 1130.0,370.8 1140.2,370.8 1144.5,375.2 1216.8,374.7 1239.1,371.3 1250.0,367.9 1254.1,366.2 1271.0,366.2 1284.6,362.3 1292.9,362.3 1296.3,358.2 1323.4,358.2 1328.3,353.8 1345.8,349.5 1354.5,349.5 1363.2,341.2 1380.7,341.2 1385.1,336.8 1389.4,336.8 1394.3,332.5 1400.8,330.0 1411.5,328.2 1420.2,320.0 1424.1,320.0 1437.7,315.6 1446.4,307.4 1451.3,306.4 1455.2,302.8 1468.8,302.8 1472.6,298.3 1500.0,298.3 1511.6,298.7 1516.4,294.8 1570.0,294.3 1573.5,290.3 1630.0,290.3 1632.8,287.9 1635.3,286.0 1652.2,286.0" fill="none" stroke="green" stroke-width="2" stroke-linejoin="round"/>
<polyline points="58.9,65.2 71.6,65.2 76.3,69.3 98.0,69.3 102.4,73.7 124.1,73.7 128.4,77.9 154.8,77.9 159.2,82.1 194.0,82.1 199.0,86.1 273.0,86.1 276.9,90.0 307.5,90.0 312.8,94.9 330.0,94.9 352.0,94.7 364.6,99.4 404.4,99.4 408.8,103.4 443.7,103.4 456.8,107.8 470.4,107.8 474.3,112.0 487.4,112.0 490.0,114.1 495.6,120.0 500.9,124.7 505.3,124.7 518.4,128.7 522.8,133.4 527.1,133.4 535.9,141.8 549.0,146.0 557.7,146.0 566.4,154.4 579.5,154.4 588.3,163.2 592.6,163.2 597.0,167.5 620.0,172.4 623.3,175.5 627.7,175.5 640.9,179.9 645.3,183.9 649.7,192.7 654.1,192.7 658.5,197.1 671.7,201.2 676.1,205.2 680.5,205.2 689.2,213.8 701.8,218.4 706.8,222.5 711.2,222.5 720.0,231.0 732.6,231.0 741.4,239.4 750.1,239.4 763.3,243.5 772.1,252.0 776.5,252.0 780.9,256.5 798.5,256.5 800.0,258.0 803.1,260.5 811.9,260.5 824.7,264.9 833.4,264.9 838.0,269.0 868.4,269.0 873.0,273.4 899.2,273.4 903.8,277.6 920.0,277.8 987.0,277.8 991.3,282.0 1021.9,282.0 1026.2,286.1 1052.4,286.1 1056.8,290.4 1087.5,290.1 1091.5,290.1 1100.2,294.5 1117.6,294.5 1131.0,298.8 1144.4,298.8 1149.0,303.1 1179.0,302.9 1192.6,307.0 1223.6,307.0 1227.5,311.4 1250.0,311.4 1330.0,311.5 1411.5,311.5 1415.9,306.9 1450.8,306.9 1455.2,302.8 1500.0,302.8 1568.7,302.9 1573.5,298.5 1630.0,298.5 1652.2,298.6" fill="none" stroke="purple" stroke-width="1.5" stroke-linejoin="round"/>
<circle cx="185.7" cy="158.6" r="10.7" fill="cyan"/>
<circle cx="286.4" cy="146.1" r="10.7" fill="magenta"/>
<circle cx="803.0" cy="511.2" r="10.7" fill="cyan"/>
<circle cx="1017.5" cy="341.1" r="10.7" fill="magenta"/>
<circle cx="1227.5" cy="375.2" r="10.7" fill="cyan"/>
<circle cx="1507.7" cy="273.0" r="10.7" fill="magenta"/>
<circle cx="1577.4" cy="277.7" r="10.7" fill="cyan"/>
<circle cx="1591.0" cy="277.7" r="10.7" fill="magenta"/>
<circle cx="1633.8" cy="277.2" r="10.7" fill="cyan"/>
<rect x="55.92" y="906.21" width="3.5" height="22.29" fill="#0000ff"/>
<rect x="60.30" y="919.02" width="3.5" height="9.48" fill="#0000ff"/>
<rect x="64.67" y="910.23" width="3.5" height="18.27" fill="#0000ff"/>
<rect x="69.05" y="890.51" width="3.5" height="37.99" fill="#0000ff"/>
<rect x="73.43" y="920.02" width="3.5" height="8.48" fill="#0000ff"/>
<rect x="86.57" y="898.30" width="3.5" height="30.20" fill="#0000ff"/>
<rect x="90.95" y="918.01" width="3.5" height="10.49" fill="#0000ff"/>
<rect x="95.33" y="875.70" width="3.5" height="52.80" fill="#0000ff"/>
<rect x="99.71" y="912.11" width="3.5" height="16.39" fill="#0000ff"/>
<rect x="104.09" y="914.87" width="3.5" height="13.63" fill="#0000ff"/>
<rect x="117.23" y="924.04" width="3.5" height="4.46" fill="#0000ff"/>
<rect x="121.61" y="920.27" width="3.5" height="8.23" fill="#0000ff"/>
<rect x="125.98" y="926.17" width="3.5" height="2.33" fill="#0000ff"/>
<rect x="130.36" y="925.92" width="3.5" height="2.58" fill="#0000ff"/>
<rect x="134.74" y="924.04" width="3.5" height="4.46" fill="#0000ff"/>
<rect x="147.88" y="924.04" width="3.5" height="4.46" fill="#0000ff"/>
<rect x="152.26" y="916.88" width="3.5" height="11.62" fill="#0000ff"/>
<rect x="156.64" y="912.11" width="3.5" height="16.39" fill="#0000ff"/>
<rect x="161.02" y="914.24" width="3.5" height="14.26" fill="#0000ff"/>
<rect x="165.40" y="925.29" width="3.5" height="3.21" fill="#0000ff"/>
<rect x="178.54" y="927.30" width="3.5" height="1.20" fill="#0000ff"/>
<rect x="182.92" y="910.23" width="3.5" height="18.27" fill="#0000ff"/>
<rect x="191.67" y="907.71" width="3.5" height="20.79" fill="#0000ff"/>
<rect x="196.05" y="924.79" width="3.5" height="3.71" fill="#0000ff"/>
<rect x="209.19" y="901.81" width="3.5" height="26.69" fill="#0000ff"/>
<rect x="213.57" y="903.95" width="3.5" height="24.55" fill="#0000ff"/>
<rect x="222.33" y="906.21" width="3.5" height="22.29" fill="#0000ff"/>
<rect x="226.71" y="902.32" width="3.5" height="26.18" fill="#0000ff"/>
<rect x="239.85" y="914.62" width="3.5" height="13.88" fill="#0000ff"/>
<rect x="244.23" y="920.02" width="3.5" height="8.48" fill="#0000ff"/>
<rect x="248.61" y="917.13" width="3.5" height="11.37" fill="#0000ff"/>
<rect x="252.98" y="918.51" width="3.5" height="9.99" fill="#0000ff"/>
<rect x="257.36" y="924.04" width="3.5" height="4.46" fill="#0000ff"/>
<rect x="270.50" y="922.53" width="3.5" height="5.97" fill="#0000ff"/>
<rect x="274.88" y="927.18" width="3.5" height="1.32" fill="#0000ff"/>
<rect x="279.26" y="919.64" width="3.5" height="8.86" fill="#0000ff"/>
<rect x="283.64" y="921.78" width="3.5" height="6.72" fill="#0000ff"/>
<rect x="288.02" y="902.44" width="3.5" height="26.06" fill="#0000ff"/>
<rect x="301.16" y="923.03" width="3.5" height="5.47" fill="#0000ff"/>
<rect x="305.54" y="921.02" width="3.5" height="7.48" fill="#0000ff"/>
<rect x="314.29" y="917.13" width="3.5" height="11.37" fill="#0000ff"/>
<rect x="318.67" y="915.25" width="3.5" height="13.25" fill="#0000ff"/>
<rect x="331.81" y="918.14" width="3.5" height="10.36" fill="#0000ff"/>
<rect x="336.19" y="920.27" width="3.5" height="8.23" fill="#0000ff"/>
<rect x="349.33" y="926.17" width="3.5" height="2.33" fill="#0000ff"/>
<rect x="362.47" y="921.28" width="3.5" height="7.22" fill="#0000ff"/>
<rect x="366.85" y="916.88" width="3.5" height="11.62" fill="#0000ff"/>
<rect x="371.23" y="921.90" width="3.5" height="6.60" fill="#0000ff"/>
<rect x="375.60" y="916.13" width="3.5" height="12.37" fill="#0000ff"/>
<rect x="379.98" y="927.30" width="3.5" height="1.20" fill="#0000ff"/>
<rect x="393.12" y="916.13" width="3.5" height="12.37" fill="#0000ff"/>
<rect x="401.88" y="922.15" width="3.5" height="6.35" fill="#0000ff"/>
<rect x="406.26" y="922.15" width="3.5" height="6.35" fill="#0000ff"/>
<rect x="410.64" y="917.26" width="3.5" height="11.24" fill="#0000ff"/>
<rect x="423.78" y="918.01" width="3.5" height="10.49" fill="#0000ff"/>
<rect x="428.16" y="919.89" width="3.5" height="8.61" fill="#0000ff"/>
<rect x="432.54" y="911.48" width="3.5" height="17.02" fill="#0000ff"/>
<rect x="436.91" y="904.58" width="3.5" height="23.92" fill="#0000ff"/>
<rect x="441.29" y="920.02" width="3.5" height="8.48" fill="#0000ff"/>
<rect x="454.43" y="919.02" width="3.5" height="9.48" fill="#0000ff"/>
<rect x="458.81" y="891.64" width="3.5" height="36.86" fill="#0000ff"/>
<rect x="463.19" y="924.29" width="3.5" height="4.21" fill="#0000ff"/>
<rect x="467.57" y="793.98" width="3.5" height="134.52" fill="#0000ff"/>
<rect x="471.95" y="896.79" width="3.5" height="31.71" fill="#0000ff"/>
<rect x="485.09" y="804.40" width="3.5" height="124.10" fill="#0000ff"/>
<rect x="489.47" y="881.02" width="3.5" height="47.48" fill="#0000ff"/>
<rect x="493.85" y="915.71" width="3.5" height="12.79" fill="#0000ff"/>
<rect x="498.23" y="910.62" width="3.5" height="17.88" fill="#0000ff"/>
<rect x="502.60" y="892.07" width="3.5" height="36.43" fill="#0000ff"/>
<rect x="515.74" y="915.96" width="3.5" height="12.54" fill="#0000ff"/>
<rect x="520.12" y="907.32" width="3.5" height="21.18" fill="#0000ff"/>
<rect x="524.50" y="915.96" width="3.5" height="12.54" fill="#0000ff"/>
<rect x="528.88" y="919.39" width="3.5" height="9.11" fill="#0000ff"/>
<rect x="533.26" y="912.53" width="3.5" height="15.97" fill="#0000ff"/>
<rect x="546.40" y="915.13" width="3.5" height="13.37" fill="#0000ff"/>
<rect x="555.16" y="919.15" width="3.5" height="9.35" fill="#0000ff"/>
<rect x="559.54" y="919.15" width="3.5" height="9.35" fill="#0000ff"/>
<rect x="563.91" y="910.11" width="3.5" height="18.39" fill="#0000ff"/>
<rect x="577.05" y="914.38" width="3.5" height="14.12" fill="#0000ff"/>
<rect x="581.43" y="926.06" width="3.5" height="2.44" fill="#0000ff"/>
<rect x="585.81" y="926.06" width="3.5" height="2.44" fill="#0000ff"/>
<rect x="590.19" y="926.06" width="3.5" height="2.44" fill="#0000ff"/>
<rect x="594.57" y="905.34" width="3.5" height="23.16" fill="#0000ff"/>
<rect x="616.47" y="911.87" width="3.5" height="16.63" fill="#0000ff"/>
<rect x="620.85" y="921.03" width="3.5" height="7.47" fill="#0000ff"/>
<rect x="625.22" y="905.72" width="3.5" height="22.78" fill="#0000ff"/>
<rect x="638.36" y="851.09" width="3.5" height="77.41" fill="#0000ff"/>
<rect x="642.74" y="865.16" width="3.5" height="63.34" fill="#0000ff"/>
<rect x="647.12" y="900.32" width="3.5" height="28.18" fill="#0000ff"/>
<rect x="651.50" y="844.69" width="3.5" height="83.81" fill="#0000ff"/>
<rect x="655.88" y="908.10" width="3.5" height="20.40" fill="#0000ff"/>
<rect x="669.02" y="916.89" width="3.5" height="11.61" fill="#0000ff"/>
<rect x="673.40" y="921.91" width="3.5" height="6.59" fill="#0000ff"/>
<rect x="677.78" y="919.15" width="3.5" height="9.35" fill="#0000ff"/>
<rect x="682.16" y="917.90" width="3.5" height="10.60" fill="#0000ff"/>
<rect x="686.54" y="919.40" width="3.5" height="9.10" fill="#0000ff"/>
<rect x="699.67" y="925.81" width="3.5" height="2.69" fill="#0000ff"/>
<rect x="704.05" y="923.92" width="3.5" height="4.58" fill="#0000ff"/>
<rect x="708.43" y="917.90" width="3.5" height="10.60" fill="#0000ff"/>
<rect x="712.81" y="921.91" width="3.5" height="6.59" fill="#0000ff"/>
<rect x="717.19" y="912.25" width="3.5" height="16.25" fill="#0000ff"/>
<rect x="730.33" y="920.16" width="3.5" height="8.34" fill="#0000ff"/>
<rect x="734.71" y="909.48" width="3.5" height="19.02" fill="#0000ff"/>
<rect x="739.09" y="917.90" width="3.5" height="10.60" fill="#0000ff"/>
<rect x="747.85" y="906.85" width="3.5" height="21.65" fill="#0000ff"/>
<rect x="760.98" y="921.03" width="3.5" height="7.47" fill="#0000ff"/>
<rect x="765.36" y="920.16" width="3.5" height="8.34" fill="#0000ff"/>
<rect x="769.74" y="926.06" width="3.5" height="2.44" fill="#0000ff"/>
<rect x="774.12" y="925.18" width="3.5" height="3.32" fill="#0000ff"/>
<rect x="778.50" y="911.62" width="3.5" height="16.88" fill="#0000ff"/>
<rect x="796.02" y="891.90" width="3.5" height="36.60" fill="#0000ff"/>
<rect x="800.40" y="858.63" width="3.5" height="69.87" fill="#0000ff"/>
<rect x="804.78" y="863.65" width="3.5" height="64.85" fill="#0000ff"/>
<rect x="809.16" y="896.55" width="3.5" height="31.95" fill="#0000ff"/>
<rect x="822.29" y="891.53" width="3.5" height="36.97" fill="#0000ff"/>
<rect x="826.67" y="905.09" width="3.5" height="23.41" fill="#0000ff"/>
<rect x="831.05" y="905.09" width="3.5" height="23.41" fill="#0000ff"/>
<rect x="835.43" y="908.48" width="3.5" height="20.02" fill="#0000ff"/>
<rect x="839.81" y="922.92" width="3.5" height="5.58" fill="#0000ff"/>
<rect x="852.95" y="886.13" width="3.5" height="42.37" fill="#0000ff"/>
<rect x="857.33" y="925.18" width="3.5" height="3.32" fill="#0000ff"/>
<rect x="861.71" y="927.06" width="3.5" height="1.44" fill="#0000ff"/>
<rect x="866.09" y="923.92" width="3.5" height="4.58" fill="#0000ff"/>
<rect x="870.47" y="923.92" width="3.5" height="4.58" fill="#0000ff"/>
<rect x="887.98" y="920.41" width="3.5" height="8.09" fill="#0000ff"/>
<rect x="892.36" y="923.92" width="3.5" height="4.58" fill="#0000ff"/>
<rect x="896.74" y="923.55" width="3.5" height="4.95" fill="#0000ff"/>
<rect x="901.12" y="924.80" width="3.5" height="3.70" fill="#0000ff"/>
<rect x="914.26" y="923.92" width="3.5" height="4.58" fill="#0000ff"/>
<rect x="918.64" y="917.64" width="3.5" height="10.86" fill="#0000ff"/>
<rect x="923.02" y="923.55" width="3.5" height="4.95" fill="#0000ff"/>
<rect x="927.40" y="908.10" width="3.5" height="20.40" fill="#0000ff"/>
<rect x="931.78" y="848.21" width="3.5" height="80.29" fill="#0000ff"/>
<rect x="944.91" y="785.24" width="3.5" height="143.26" fill="#0000ff"/>
<rect x="949.29" y="889.39" width="3.5" height="39.11" fill="#0000ff"/>
<rect x="953.67" y="861.64" width="3.5" height="66.86" fill="#0000ff"/>
<rect x="958.05" y="890.02" width="3.5" height="38.48" fill="#0000ff"/>
<rect x="962.43" y="871.44" width="3.5" height="57.06" fill="#0000ff"/>
<rect x="975.57" y="832.37" width="3.5" height="96.13" fill="#0000ff"/>
<rect x="979.95" y="883.05" width="3.5" height="45.45" fill="#0000ff"/>
<rect x="984.33" y="895.13" width="3.5" height="33.37" fill="#0000ff"/>
<rect x="988.71" y="905.63" width="3.5" height="22.87" fill="#0000ff"/>
<rect x="1006.22" y="921.12" width="3.5" height="7.38" fill="#0000ff"/>
<rect x="1010.60" y="923.09" width="3.5" height="5.41" fill="#0000ff"/>
<rect x="1014.98" y="920.07" width="3.5" height="8.43" fill="#0000ff"/>
<rect x="1019.36" y="917.18" width="3.5" height="11.32" fill="#0000ff"/>
<rect x="1023.74" y="918.36" width="3.5" height="10.14" fill="#0000ff"/>
<rect x="1036.88" y="910.22" width="3.5" height="18.28" fill="#0000ff"/>
<rect x="1041.26" y="925.98" width="3.5" height="2.52" fill="#0000ff"/>
<rect x="1045.64" y="924.40" width="3.5" height="4.10" fill="#0000ff"/>
<rect x="1050.02" y="924.04" width="3.5" height="4.46" fill="#0000ff"/>
<rect x="1054.40" y="927.43" width="3.5" height="1.07" fill="#0000ff"/>
<rect x="1067.53" y="926.17" width="3.5" height="2.33" fill="#0000ff"/>
<rect x="1071.91" y="925.29" width="3.5" height="3.21" fill="#0000ff"/>
<rect x="1076.29" y="923.03" width="3.5" height="5.47" fill="#0000ff"/>
<rect x="1080.67" y="926.17" width="3.5" height="2.33" fill="#0000ff"/>
<rect x="1085.05" y="926.17" width="3.5" height="2.33" fill="#0000ff"/>
<rect x="1098.19" y="925.54" width="3.5" height="2.96" fill="#0000ff"/>
<rect x="1102.57" y="915.88" width="3.5" height="12.62" fill="#0000ff"/>
<rect x="1106.95" y="919.27" width="3.5" height="9.23" fill="#0000ff"/>
<rect x="1111.33" y="914.37" width="3.5" height="14.13" fill="#0000ff"/>
<rect x="1115.71" y="916.13" width="3.5" height="12.37" fill="#0000ff"/>
<rect x="1128.84" y="911.23" width="3.5" height="17.27" fill="#0000ff"/>
<rect x="1133.22" y="921.53" width="3.5" height="6.97" fill="#0000ff"/>
<rect x="1137.60" y="926.17" width="3.5" height="2.33" fill="#0000ff"/>
<rect x="1141.98" y="926.17" width="3.5" height="2.33" fill="#0000ff"/>
<rect x="1146.36" y="924.67" width="3.5" height="3.83" fill="#0000ff"/>
<rect x="1159.50" y="926.17" width="3.5" height="2.33" fill="#0000ff"/>
<rect x="1163.88" y="923.16" width="3.5" height="5.34" fill="#0000ff"/>
<rect x="1168.26" y="918.26" width="3.5" height="10.24" fill="#0000ff"/>
<rect x="1172.64" y="921.28" width="3.5" height="7.22" fill="#0000ff"/>
<rect x="1177.02" y="923.16" width="3.5" height="5.34" fill="#0000ff"/>
<rect x="1190.15" y="925.29" width="3.5" height="3.21" fill="#0000ff"/>
<rect x="1194.53" y="922.66" width="3.5" height="5.84" fill="#0000ff"/>
<rect x="1198.91" y="917.38" width="3.5" height="11.12" fill="#0000ff"/>
<rect x="1203.29" y="927.43" width="3.5" height="1.07" fill="#0000ff"/>
<rect x="1207.67" y="906.71" width="3.5" height="21.79" fill="#0000ff"/>
<rect x="1220.81" y="927.43" width="3.5" height="1.07" fill="#0000ff"/>
<rect x="1225.19" y="912.11" width="3.5" height="16.39" fill="#0000ff"/>
<rect x="1229.57" y="925.29" width="3.5" height="3.21" fill="#0000ff"/>
<rect x="1233.95" y="895.16" width="3.5" height="33.34" fill="#0000ff"/>
<rect x="1238.33" y="911.23" width="3.5" height="17.27" fill="#0000ff"/>
<rect x="1251.46" y="922.15" width="3.5" height="6.35" fill="#0000ff"/>
<rect x="1255.84" y="919.64" width="3.5" height="8.86" fill="#0000ff"/>
<rect x="1260.22" y="926.06" width="3.5" height="2.44" fill="#0000ff"/>
<rect x="1264.60" y="926.06" width="3.5" height="2.44" fill="#0000ff"/>
<rect x="1268.98" y="911.62" width="3.5" height="16.88" fill="#0000ff"/>
<rect x="1286.50" y="925.81" width="3.5" height="2.69" fill="#0000ff"/>
<rect x="1290.88" y="922.92" width="3.5" height="5.58" fill="#0000ff"/>
<rect x="1295.26" y="918.90" width="3.5" height="9.60" fill="#0000ff"/>
<rect x="1312.78" y="922.92" width="3.5" height="5.58" fill="#0000ff"/>
<rect x="1317.15" y="912.25" width="3.5" height="16.25" fill="#0000ff"/>
<rect x="1321.53" y="908.85" width="3.5" height="19.65" fill="#0000ff"/>
<rect x="1325.91" y="916.89" width="3.5" height="11.61" fill="#0000ff"/>
<rect x="1330.29" y="913.50" width="3.5" height="15.00" fill="#0000ff"/>
<rect x="1352.19" y="848.83" width="3.5" height="79.67" fill="#0000ff"/>
<rect x="1356.57" y="891.78" width="3.5" height="36.72" fill="#0000ff"/>
<rect x="1360.95" y="876.08" width="3.5" height="52.42" fill="#0000ff"/>
<rect x="1374.09" y="905.97" width="3.5" height="22.53" fill="#0000ff"/>
<rect x="1378.46" y="913.12" width="3.5" height="15.38" fill="#0000ff"/>
<rect x="1382.84" y="915.13" width="3.5" height="13.37" fill="#0000ff"/>
<rect x="1387.22" y="913.88" width="3.5" height="14.62" fill="#0000ff"/>
<rect x="1391.60" y="897.18" width="3.5" height="31.32" fill="#0000ff"/>
<rect x="1404.74" y="912.87" width="3.5" height="15.63" fill="#0000ff"/>
<rect x="1409.12" y="919.15" width="3.5" height="9.35" fill="#0000ff"/>
<rect x="1413.50" y="915.13" width="3.5" height="13.37" fill="#0000ff"/>
<rect x="1417.88" y="900.94" width="3.5" height="27.56" fill="#0000ff"/>
<rect x="1422.26" y="910.99" width="3.5" height="17.51" fill="#0000ff"/>
<rect x="1435.40" y="916.64" width="3.5" height="11.86" fill="#0000ff"/>
<rect x="1439.77" y="916.14" width="3.5" height="12.36" fill="#0000ff"/>
<rect x="1444.15" y="904.96" width="3.5" height="23.54" fill="#0000ff"/>
<rect x="1448.53" y="922.29" width="3.5" height="6.21" fill="#0000ff"/>
<rect x="1452.91" y="922.29" width="3.5" height="6.21" fill="#0000ff"/>
<rect x="1466.05" y="921.91" width="3.5" height="6.59" fill="#0000ff"/>
<rect x="1470.43" y="907.60" width="3.5" height="20.90" fill="#0000ff"/>
<rect x="1474.81" y="914.22" width="3.5" height="14.28" fill="#0000ff"/>
<rect x="1479.19" y="902.54" width="3.5" height="25.96" fill="#0000ff"/>
<rect x="1483.57" y="924.64" width="3.5" height="3.86" fill="#0000ff"/>
<rect x="1501.08" y="924.01" width="3.5" height="4.49" fill="#0000ff"/>
<rect x="1505.46" y="923.26" width="3.5" height="5.24" fill="#0000ff"/>
<rect x="1509.84" y="912.34" width="3.5" height="16.16" fill="#0000ff"/>
<rect x="1514.22" y="921.13" width="3.5" height="7.37" fill="#0000ff"/>
<rect x="1527.36" y="922.00" width="3.5" height="6.50" fill="#0000ff"/>
<rect x="1531.74" y="889.98" width="3.5" height="38.52" fill="#0000ff"/>
<rect x="1536.12" y="914.22" width="3.5" height="14.28" fill="#0000ff"/>
<rect x="1540.50" y="918.24" width="3.5" height="10.26" fill="#0000ff"/>
<rect x="1544.88" y="922.13" width="3.5" height="6.37" fill="#0000ff"/>
<rect x="1558.02" y="922.76" width="3.5" height="5.74" fill="#0000ff"/>
<rect x="1562.40" y="921.75" width="3.5" height="6.75" fill="#0000ff"/>
<rect x="1566.77" y="915.73" width="3.5" height="12.77" fill="#0000ff"/>
<rect x="1571.15" y="918.24" width="3.5" height="10.26" fill="#0000ff"/>
<rect x="1575.53" y="921.38" width="3.5" height="7.12" fill="#0000ff"/>
<rect x="1588.67" y="926.40" width="3.5" height="2.10" fill="#0000ff"/>
<rect x="1593.05" y="923.39" width="3.5" height="5.11" fill="#0000ff"/>
<rect x="1597.43" y="919.49" width="3.5" height="9.01" fill="#0000ff"/>
<rect x="1601.81" y="927.40" width="3.5" height="1.10" fill="#0000ff"/>
<rect x="1606.19" y="922.38" width="3.5" height="6.12" fill="#0000ff"/>
<rect x="1619.33" y="903.29" width="3.5" height="25.21" fill="#0000ff"/>
<rect x="1628.08" y="898.27" width="3.5" height="30.23" fill="#0000ff"/>
<rect x="1632.46" y="918.99" width="3.5" height="9.51" fill="#0000ff"/>
<rect x="1636.84" y="827.20" width="3.5" height="101.30" fill="#0000ff"/>
<rect x="1649.98" y="919.24" width="3.5" height="9.26" fill="#0000ff"/>
<rect x="55.92" y="1050.50" width="3.5" height="5.37" fill="#ff0000"/>
<rect x="60.30" y="1050.50" width="3.5" height="5.37" fill="#ff0000"/>
<rect x="64.67" y="1050.50" width="3.5" height="10.73" fill="#ff0000"/>
<rect x="69.05" y="1050.50" width="3.5" height="5.37" fill="#ff0000"/>
<rect x="73.43" y="1050.50" width="3.5" height="5.37" fill="#ff0000"/>
<rect x="86.57" y="1050.50" width="3.5" height="5.37" fill="#ff0000"/>
<rect x="90.95" y="1050.50" width="3.5" height="5.37" fill="#ff0000"/>
<rect x="95.33" y="1050.50" width="3.5" height="5.37" fill="#ff0000"/>
<rect x="99.71" y="1050.50" width="3.5" height="5.37" fill="#ff0000"/>
<rect x="125.98" y="1045.13" width="3.5" height="5.37" fill="#008000"/>
<rect x="130.36" y="1045.13" width="3.5" height="5.37" fill="#008000"/>
<rect x="134.74" y="1045.13" width="3.5" height="5.37" fill="#008000"/>
<rect x="147.88" y="1045.13" width="3.5" height="5.37" fill="#008000"/>
<rect x="152.26" y="1045.13" width="3.5" height="5.37" fill="#008000"/>
<rect x="156.64" y="1045.13" width="3.5" height="5.37" fill="#008000"/>
<rect x="161.02" y="1045.13" width="3.5" height="5.37" fill="#008000"/>
<rect x="165.40" y="1045.13" width="3.5" height="5.37" fill="#008000"/>
<rect x="178.54" y="1045.13" width="3.5" height="5.37" fill="#008000"/>
<rect x="182.92" y="1045.13" width="3.5" height="5.37" fill="#008000"/>
<rect x="191.67" y="1045.13" width="3.5" height="5.37" fill="#008000"/>
<rect x="196.05" y="1045.13" width="3.5" height="5.37" fill="#008000"/>
<rect x="209.19" y="1045.13" width="3.5" height="5.37" fill="#008000"/>
<rect x="213.57" y="1045.13" width="3.5" height="5.37" fill="#008000"/>
<rect x="222.33" y="1045.13" width="3.5" height="5.37" fill="#008000"/>
<rect x="226.71" y="1039.77" width="3.5" height="10.73" fill="#008000"/>
<rect x="239.85" y="1045.13" width="3.5" height="5.37" fill="#008000"/>
<rect x="244.23" y="1045.13" width="3.5" height="5.37" fill="#008000"/>
<rect x="248.61" y="1039.77" width="3.5" height="10.73" fill="#008000"/>
<rect x="252.98" y="1045.13" width="3.5" height="5.37" fill="#008000"/>
<rect x="257.36" y="1045.13" width="3.5" height="5.37" fill="#008000"/>
<rect x="279.26" y="1050.50" width="3.5" height="5.37" fill="#ff0000"/>
<rect x="283.64" y="1050.50" width="3.5" height="5.37" fill="#ff0000"/>
<rect x="288.02" y="1050.50" width="3.5" height="5.37" fill="#ff0000"/>
<rect x="301.16" y="1050.50" width="3.5" height="5.37" fill="#ff0000"/>
<rect x="318.67" y="1050.50" width="3.5" height="5.37" fill="#ff0000"/>
<rect x="331.81" y="1050.50" width="3.5" height="5.37" fill="#ff0000"/>
<rect x="336.19" y="1050.50" width="3.5" height="10.73" fill="#ff0000"/>
<rect x="410.64" y="1045.13" width="3.5" height="5.37" fill="#008000"/>
<rect x="467.57" y="1050.50" width="3.5" height="5.37" fill="#ff0000"/>
<rect x="471.95" y="1050.50" width="3.5" height="16.10" fill="#ff0000"/>
<rect x="485.09" y="1050.50" width="3.5" height="26.84" fill="#ff0000"/>
<rect x="489.47" y="1050.50" width="3.5" height="32.20" fill="#ff0000"/>
<rect x="493.85" y="1050.50" width="3.5" height="32.20" fill="#ff0000"/>
<rect x="498.23" y="1050.50" width="3.5" height="37.57" fill="#ff0000"/>
<rect x="502.60" y="1050.50" width="3.5" height="32.20" fill="#ff0000"/>
<rect x="515.74" y="1050.50" width="3.5" height="32.20" fill="#ff0000"/>
<rect x="520.12" y="1050.50" width="3.5" height="26.84" fill="#ff0000"/>
<rect x="524.50" y="1050.50" width="3.5" height="21.47" fill="#ff0000"/>
<rect x="528.88" y="1050.50" width="3.5" height="16.10" fill="#ff0000"/>
<rect x="533.26" y="1050.50" width="3.5" height="16.10" fill="#ff0000"/>
<rect x="546.40" y="1050.50" width="3.5" height="10.73" fill="#ff0000"/>
<rect x="555.16" y="1050.50" width="3.5" height="10.73" fill="#ff0000"/>
<rect x="559.54" y="1050.50" width="3.5" height="5.37" fill="#ff0000"/>
<rect x="577.05" y="1045.13" width="3.5" height="5.37" fill="#008000"/>
<rect x="581.43" y="1039.77" width="3.5" height="10.73" fill="#008000"/>
<rect x="585.81" y="1039.77" width="3.5" height="10.73" fill="#008000"/>
<rect x="590.19" y="1039.77" width="3.5" height="10.73" fill="#008000"/>
<rect x="594.57" y="1039.77" width="3.5" height="10.73" fill="#008000"/>
<rect x="616.47" y="1039.77" width="3.5" height="10.73" fill="#008000"/>
<rect x="620.85" y="1039.77" width="3.5" height="10.73" fill="#008000"/>
<rect x="625.22" y="1045.13" width="3.5" height="5.37" fill="#008000"/>
<rect x="638.36" y="1050.50" width="3.5" height="5.37" fill="#ff0000"/>
<rect x="642.74" y="1050.50" width="3.5" height="10.73" fill="#ff0000"/>
<rect x="647.12" y="1050.50" width="3.5" height="16.10" fill="#ff0000"/>
<rect x="651.50" y="1050.50" width="3.5" height="10.73" fill="#ff0000"/>
<rect x="655.88" y="1050.50" width="3.5" height="5.37" fill="#ff0000"/>
<rect x="669.02" y="1045.13" width="3.5" height="5.37" fill="#008000"/>
<rect x="673.40" y="1039.77" width="3.5" height="10.73" fill="#008000"/>
<rect x="677.78" y="1045.13" width="3.5" height="5.37" fill="#008000"/>
<rect x="682.16" y="1045.13" width="3.5" height="5.37" fill="#008000"/>
<rect x="686.54" y="1045.13" width="3.5" height="5.37" fill="#008000"/>
<rect x="699.67" y="1039.77" width="3.5" height="10.73" fill="#008000"/>
<rect x="704.05" y="1039.77" width="3.5" height="10.73" fill="#008000"/>
<rect x="708.43" y="1039.77" width="3.5" height="10.73" fill="#008000"/>
<rect x="712.81" y="1039.77" width="3.5" height="10.73" fill="#008000"/>
<rect x="717.19" y="1039.77" width="3.5" height="10.73" fill="#008000"/>
<rect x="730.33" y="1034.40" width="3.5" height="16.10" fill="#008000"/>
<rect x="734.71" y="1034.40" width="3.5" height="16.10" fill="#008000"/>
<rect x="739.09" y="1034.40" width="3.5" height="16.10" fill="#008000"/>
<rect x="747.85" y="1034.40" width="3.5" height="16.10" fill="#008000"/>
<rect x="760.98" y="1034.40" width="3.5" height="16.10" fill="#008000"/>
<rect x="765.36" y="1039.77" width="3.5" height="10.73" fill="#008000"/>
<rect x="769.74" y="1039.77" width="3.5" height="10.73" fill="#008000"/>
<rect x="774.12" y="1039.77" width="3.5" height="10.73" fill="#008000"/>
<rect x="778.50" y="1039.77" width="3.5" height="10.73" fill="#008000"/>
<rect x="796.02" y="1034.40" width="3.5" height="16.10" fill="#008000"/>
<rect x="800.40" y="1029.03" width="3.5" height="21.47" fill="#008000"/>
<rect x="804.78" y="1029.03" width="3.5" height="21.47" fill="#008000"/>
<rect x="809.16" y="1023.66" width="3.5" height="26.84" fill="#008000"/>
<rect x="822.29" y="1029.03" width="3.5" height="21.47" fill="#008000"/>
<rect x="826.67" y="1029.03" width="3.5" height="21.47" fill="#008000"/>
<rect x="831.05" y="1023.66" width="3.5" height="26.84" fill="#008000"/>
<rect x="835.43" y="1023.66" width="3.5" height="26.84" fill="#008000"/>
<rect x="839.81" y="1023.66" width="3.5" height="26.84" fill="#008000"/>
<rect x="852.95" y="1023.66" width="3.5" height="26.84" fill="#008000"/>
<rect x="857.33" y="1029.03" width="3.5" height="21.47" fill="#008000"/>
<rect x="861.71" y="1034.40" width="3.5" height="16.10" fill="#008000"/>
<rect x="866.09" y="1039.77" width="3.5" height="10.73" fill="#008000"/>
<rect x="870.47" y="1039.77" width="3.5" height="10.73" fill="#008000"/>
<rect x="887.98" y="1045.13" width="3.5" height="5.37" fill="#008000"/>
<rect x="892.36" y="1045.13" width="3.5" height="5.37" fill="#008000"/>
<rect x="901.12" y="1050.50" width="3.5" height="5.37" fill="#ff0000"/>
<rect x="914.26" y="1050.50" width="3.5" height="5.37" fill="#ff0000"/>
<rect x="918.64" y="1050.50" width="3.5" height="10.73" fill="#ff0000"/>
<rect x="923.02" y="1050.50" width="3.5" height="10.73" fill="#ff0000"/>
<rect x="927.40" y="1050.50" width="3.5" height="5.37" fill="#ff0000"/>
<rect x="944.91" y="1039.77" width="3.5" height="10.73" fill="#008000"/>
<rect x="949.29" y="1039.77" width="3.5" height="10.73" fill="#008000"/>
<rect x="953.67" y="1039.77" width="3.5" height="10.73" fill="#008000"/>
<rect x="958.05" y="1034.40" width="3.5" height="16.10" fill="#008000"/>
<rect x="962.43" y="1045.13" width="3.5" height="5.37" fill="#008000"/>
<rect x="975.57" y="1045.13" width="3.5" height="5.37" fill="#008000"/>
<rect x="984.33" y="1050.50" width="3.5" height="5.37" fill="#ff0000"/>
<rect x="988.71" y="1050.50" width="3.5" height="16.10" fill="#ff0000"/>
<rect x="1006.22" y="1050.50" width="3.5" height="21.47" fill="#ff0000"/>
<rect x="1010.60" y="1050.50" width="3.5" height="21.47" fill="#ff0000"/>
<rect x="1014.98" y="1050.50" width="3.5" height="21.47" fill="#ff0000"/>
<rect x="1019.36" y="1050.50" width="3.5" height="21.47" fill="#ff0000"/>
<rect x="1023.74" y="1050.50" width="3.5" height="21.47" fill="#ff0000"/>
<rect x="1036.88" y="1050.50" width="3.5" height="21.47" fill="#ff0000"/>
<rect x="1041.26" y="1050.50" width="3.5" height="16.10" fill="#ff0000"/>
<rect x="1045.64" y="1050.50" width="3.5" height="10.73" fill="#ff0000"/>
<rect x="1050.02" y="1050.50" width="3.5" height="5.37" fill="#ff0000"/>
<rect x="1054.40" y="1050.50" width="3.5" height="5.37" fill="#ff0000"/>
<rect x="1067.53" y="1050.50" width="3.5" height="5.37" fill="#ff0000"/>
<rect x="1071.91" y="1050.50" width="3.5" height="5.37" fill="#ff0000"/>
<rect x="1085.05" y="1050.50" width="3.5" height="5.37" fill="#ff0000"/>
<rect x="1098.19" y="1050.50" width="3.5" height="5.37" fill="#ff0000"/>
<rect x="1102.57" y="1050.50" width="3.5" height="5.37" fill="#ff0000"/>
<rect x="1106.95" y="1050.50" width="3.5" height="5.37" fill="#ff0000"/>
<rect x="1133.22" y="1050.50" width="3.5" height="5.37" fill="#ff0000"/>
<rect x="1137.60" y="1050.50" width="3.5" height="5.37" fill="#ff0000"/>
<rect x="1141.98" y="1050.50" width="3.5" height="5.37" fill="#ff0000"/>
<rect x="1177.02" y="1045.13" width="3.5" height="5.37" fill="#008000"/>
<rect x="1190.15" y="1045.13" width="3.5" height="5.37" fill="#008000"/>
<rect x="1194.53" y="1045.13" width="3.5" height="5.37" fill="#008000"/>
<rect x="1207.67" y="1045.13" width="3.5" height="5.37" fill="#008000"/>
<rect x="1220.81" y="1045.13" width="3.5" height="5.37" fill="#008000"/>
<rect x="1225.19" y="1045.13" width="3.5" height="5.37" fill="#008000"/>
<rect x="1229.57" y="1045.13" width="3.5" height="5.37" fill="#008000"/>
<rect x="1233.95" y="1045.13" width="3.5" height="5.37" fill="#008000"/>
<rect x="1238.33" y="1039.77" width="3.5" height="10.73" fill="#008000"/>
<rect x="1251.46" y="1039.77" width="3.5" height="10.73" fill="#008000"/>
<rect x="1255.84" y="1039.77" width="3.5" height="10.73" fill="#008000"/>
<rect x="1260.22" y="1045.13" width="3.5" height="5.37" fill="#008000"/>
<rect x="1295.26" y="1045.13" width="3.5" height="5.37" fill="#008000"/>
<rect x="1321.53" y="1045.13" width="3.5" height="5.37" fill="#008000"/>
<rect x="1325.91" y="1045.13" width="3.5" height="5.37" fill="#008000"/>
<rect x="1330.29" y="1045.13" width="3.5" height="5.37" fill="#008000"/>
<rect x="1343.43" y="1045.13" width="3.5" height="5.37" fill="#008000"/>
<rect x="1356.57" y="1045.13" width="3.5" height="5.37" fill="#008000"/>
<rect x="1360.95" y="1045.13" width="3.5" height="5.37" fill="#008000"/>
<rect x="1374.09" y="1045.13" width="3.5" height="5.37" fill="#008000"/>
<rect x="1378.46" y="1045.13" width="3.5" height="5.37" fill="#008000"/>
<rect x="1382.84" y="1045.13" width="3.5" height="5.37" fill="#008000"/>
<rect x="1404.74" y="1045.13" width="3.5" height="5.37" fill="#008000"/>
<rect x="1409.12" y="1045.13" width="3.5" height="5.37" fill="#008000"/>
<rect x="1413.50" y="1045.13" width="3.5" height="5.37" fill="#008000"/>
<rect x="1417.88" y="1045.13" width="3.5" height="5.37" fill="#008000"/>
<rect x="1422.26" y="1045.13" width="3.5" height="5.37" fill="#008000"/>
<rect x="1435.40" y="1045.13" width="3.5" height="5.37" fill="#008000"/>
<rect x="1444.15" y="1045.13" width="3.5" height="5.37" fill="#008000"/>
<rect x="1448.53" y="1045.13" width="3.5" height="5.37" fill="#008000"/>
<rect x="1466.05" y="1050.50" width="3.5" height="5.37" fill="#ff0000"/>
<rect x="1474.81" y="1050.50" width="3.5" height="5.37" fill="#ff0000"/>
<rect x="1479.19" y="1050.50" width="3.5" height="5.37" fill="#ff0000"/>
<rect x="1483.57" y="1050.50" width="3.5" height="10.73" fill="#ff0000"/>
<rect x="1501.08" y="1050.50" width="3.5" height="10.73" fill="#ff0000"/>
<rect x="1505.46" y="1050.50" width="3.5" height="10.73" fill="#ff0000"/>
<rect x="1509.84" y="1050.50" width="3.5" height="10.73" fill="#ff0000"/>
<rect x="1514.22" y="1050.50" width="3.5" height="5.37" fill="#ff0000"/>
<rect x="1527.36" y="1050.50" width="3.5" height="5.37" fill="#ff0000"/>
<rect x="1531.74" y="1050.50" width="3.5" height="10.73" fill="#ff0000"/>
<rect x="1536.12" y="1050.50" width="3.5" height="5.37" fill="#ff0000"/>
<rect x="1540.50" y="1050.50" width="3.5" height="5.37" fill="#ff0000"/>
<rect x="1544.88" y="1050.50" width="3.5" height="5.37" fill="#ff0000"/>
<rect x="1558.02" y="1050.50" width="3.5" height="5.37" fill="#ff0000"/>
<rect x="1636.84" y="1045.13" width="3.5" height="5.37" fill="#008000"/>
<rect x="1649.98" y="1045.13" width="3.5" height="5.37" fill="#008000"/>
<path d="M57.5,1071.4 C58.1,1071.4 59.8,1070.5 61.3,1071.4 C62.7,1072.4 64.8,1076.1 66.3,1077.1 C67.8,1078.0 64.6,1077.1 70.1,1077.1 C75.5,1077.1 93.6,1077.2 98.9,1077.1 C104.3,1077.0 100.8,1077.4 102.1,1076.5 C103.3,1075.5 102.9,1072.3 106.5,1071.4 C110.0,1070.6 120.0,1072.3 123.4,1071.4 C126.9,1070.6 125.8,1067.3 127.2,1066.4 C128.6,1065.6 130.0,1067.4 131.6,1066.4 C133.2,1065.5 135.2,1061.8 136.6,1060.8 C138.1,1059.7 136.8,1060.1 140.4,1060.1 C143.9,1060.1 154.2,1061.6 158.0,1060.8 C161.7,1059.9 158.6,1056.1 163.0,1055.1 C167.4,1054.2 179.3,1056.0 184.3,1055.1 C189.4,1054.3 188.1,1050.9 193.1,1050.1 C198.1,1049.3 209.4,1050.9 214.5,1050.1 C219.5,1049.3 221.0,1046.8 223.3,1045.1 C225.6,1043.3 226.6,1040.5 228.3,1039.4 C230.0,1038.4 230.4,1038.8 233.3,1038.8 C236.2,1038.8 243.0,1040.3 245.9,1039.4 C248.7,1038.6 248.8,1033.8 250.3,1033.8 C251.7,1033.8 251.6,1038.6 254.6,1039.4 C257.7,1040.3 265.1,1038.7 268.5,1038.8 C271.9,1038.9 273.6,1039.0 275.0,1040.0 C276.4,1041.1 275.9,1043.5 276.9,1045.1 C278.0,1046.6 279.3,1048.7 281.3,1049.5 C283.3,1050.2 285.5,1048.4 288.8,1049.5 C292.2,1050.5 298.5,1055.5 301.4,1055.7 C304.3,1056.0 304.1,1051.7 306.4,1050.7 C308.7,1049.8 312.9,1049.3 315.2,1050.1 C317.5,1050.9 317.5,1054.9 320.2,1055.7 C322.9,1056.6 328.6,1054.3 331.5,1055.1 C334.5,1056.0 334.7,1060.7 337.8,1060.8 C340.9,1060.9 338.9,1056.6 350.4,1055.7 C361.9,1054.9 396.5,1056.8 406.9,1055.7 C417.2,1054.7 409.6,1049.5 412.5,1049.5 C415.4,1049.5 416.0,1054.7 424.4,1055.7 C432.9,1056.8 456.3,1055.0 463.4,1055.7 C470.5,1056.5 465.7,1056.9 467.1,1060.1 C468.6,1063.4 469.0,1070.2 472.2,1075.2 C475.3,1080.2 482.8,1084.0 486.0,1090.0 C489.2,1096.1 489.4,1105.7 491.4,1111.6 C493.3,1117.5 495.8,1121.4 497.7,1125.4 C499.6,1129.4 499.8,1132.9 502.7,1135.4 C505.6,1137.9 512.1,1138.5 515.2,1140.5 C518.4,1142.4 514.8,1145.9 521.5,1147.0 C528.2,1148.1 548.3,1148.7 555.4,1147.0 C562.5,1145.3 561.7,1138.9 564.2,1136.7 C566.7,1134.4 568.2,1134.5 570.5,1133.5 C572.8,1132.6 575.3,1133.3 578.0,1131.0 C580.8,1128.7 584.5,1121.6 586.8,1119.7 C589.1,1117.9 590.2,1120.6 591.8,1119.7 C593.5,1118.8 591.6,1115.2 596.9,1114.3 C602.1,1113.4 617.8,1114.1 623.2,1114.3 C628.7,1114.6 626.8,1114.1 629.5,1116.0 C632.2,1117.8 636.4,1120.3 639.6,1125.4 C642.7,1130.5 645.6,1144.7 648.3,1146.7 C651.1,1148.7 652.5,1140.7 655.9,1137.3 C659.2,1134.0 665.3,1129.6 668.4,1126.6 C671.6,1123.7 672.8,1120.9 674.7,1119.7 C676.6,1118.6 678.6,1119.6 680.0,1119.7 C681.4,1119.9 681.7,1121.4 683.1,1120.5 C684.4,1119.5 685.4,1116.0 688.1,1114.2 C690.8,1112.4 696.4,1111.6 699.4,1109.8 C702.3,1108.0 703.9,1104.4 705.7,1103.5 C707.4,1102.6 708.0,1105.8 710.1,1104.1 C712.1,1102.5 714.8,1096.1 718.2,1093.5 C721.7,1090.8 727.2,1091.2 730.8,1088.4 C734.3,1085.7 736.6,1079.0 739.6,1077.1 C742.5,1075.2 744.6,1078.1 748.3,1077.1 C752.1,1076.2 757.8,1072.4 762.2,1071.5 C766.6,1070.5 771.7,1072.4 774.7,1071.5 C777.7,1070.5 777.8,1067.1 780.0,1065.8 C782.1,1064.6 784.8,1064.7 787.6,1063.9 C790.3,1063.1 794.3,1062.6 796.4,1061.0 C798.5,1059.4 799.1,1056.2 800.1,1054.1 C801.2,1052.0 801.4,1050.1 802.6,1048.4 C803.9,1046.8 806.2,1046.7 807.7,1044.0 C809.1,1041.4 809.8,1034.9 811.4,1032.7 C813.1,1030.5 815.8,1031.5 817.7,1030.9 C819.6,1030.2 821.1,1030.3 822.7,1029.0 C824.4,1027.6 826.3,1025.4 827.8,1022.7 C829.2,1020.0 829.4,1016.1 831.5,1012.6 C833.6,1009.2 837.6,1004.5 840.3,1002.0 C843.0,999.5 845.3,998.6 847.9,997.6 C850.4,996.5 851.4,996.0 855.4,995.7 C859.4,995.4 868.2,995.4 871.7,995.7 C875.3,996.0 874.0,996.6 876.7,997.6 C879.5,998.5 885.1,1000.6 888.0,1001.3 C891.0,1002.1 892.6,1001.1 894.3,1002.0 C896.0,1002.8 896.6,1004.5 898.1,1006.4 C899.5,1008.3 900.4,1012.3 903.1,1013.3 C905.8,1014.2 910.8,1010.3 914.4,1012.0 C918.0,1013.7 921.1,1023.6 924.4,1023.3 C927.8,1023.0 930.9,1013.8 934.5,1010.1 C938.0,1006.5 941.8,1005.4 945.8,1001.3 C949.8,997.3 955.4,987.4 958.3,985.7 C961.3,983.9 960.4,989.8 963.4,990.7 C966.3,991.5 973.0,989.8 975.9,990.7 C978.9,991.5 978.6,991.1 980.9,995.7 C983.3,1000.3 985.8,1013.0 990.0,1018.3 C994.2,1023.6 1002.6,1024.6 1006.4,1027.6 C1010.1,1030.6 1009.7,1032.8 1012.6,1036.4 C1015.6,1040.1 1020.6,1046.7 1023.9,1049.6 C1027.3,1052.5 1029.8,1052.9 1032.7,1054.0 C1035.7,1055.0 1039.0,1056.6 1041.5,1055.9 C1044.0,1055.1 1041.7,1050.6 1047.8,1049.6 C1053.9,1048.6 1072.1,1049.3 1077.9,1049.6 C1083.8,1049.9 1081.5,1050.4 1083.0,1051.5 C1084.4,1052.5 1082.5,1055.2 1086.7,1055.9 C1090.9,1056.5 1101.6,1055.5 1108.1,1055.2 C1114.6,1055.0 1121.9,1054.4 1125.7,1054.6 C1129.4,1054.8 1129.2,1055.4 1130.7,1056.5 C1132.1,1057.6 1132.4,1060.5 1134.4,1061.3 C1136.5,1062.1 1136.7,1061.3 1143.2,1061.3 C1149.7,1061.3 1167.3,1062.4 1173.4,1061.3 C1179.4,1060.2 1176.3,1055.6 1179.6,1054.6 C1183.0,1053.6 1190.1,1055.2 1193.5,1055.2 C1196.9,1055.2 1198.3,1054.5 1200.0,1054.6 C1201.7,1054.7 1202.3,1056.6 1203.8,1055.8 C1205.3,1055.0 1204.4,1050.9 1208.8,1049.9 C1213.2,1049.0 1225.2,1051.9 1230.2,1050.2 C1235.2,1048.4 1236.2,1042.0 1239.0,1039.5 C1241.7,1037.0 1244.0,1036.2 1246.5,1035.1 C1249.0,1034.1 1251.5,1033.5 1254.0,1033.2 C1256.5,1032.9 1259.7,1032.2 1261.6,1033.2 C1263.5,1034.3 1260.3,1038.5 1265.3,1039.5 C1270.4,1040.6 1286.5,1040.6 1291.7,1039.5 C1296.9,1038.5 1293.6,1033.6 1296.7,1033.2 C1299.9,1032.8 1307.2,1036.0 1310.5,1037.0 C1313.9,1038.0 1314.7,1040.1 1316.8,1039.5 C1318.9,1038.9 1317.4,1034.2 1323.1,1033.2 C1328.7,1032.3 1344.9,1034.7 1350.7,1033.9 C1356.6,1033.0 1352.4,1029.1 1358.3,1028.2 C1364.1,1027.3 1379.4,1028.5 1385.9,1028.2 C1392.4,1027.9 1393.8,1027.3 1397.2,1026.3 C1400.5,1025.4 1403.8,1023.2 1406.0,1022.6 C1408.1,1021.9 1408.7,1022.5 1410.0,1022.6 C1411.3,1022.7 1412.1,1024.0 1413.8,1023.2 C1415.5,1022.3 1416.7,1018.6 1420.1,1017.5 C1423.4,1016.5 1431.0,1016.7 1433.9,1016.9 C1436.8,1017.1 1436.4,1017.8 1437.7,1018.8 C1438.9,1019.7 1440.1,1022.8 1441.4,1022.6 C1442.8,1022.3 1443.7,1018.3 1445.8,1017.5 C1447.9,1016.7 1450.5,1016.8 1454.0,1017.8 C1457.4,1018.7 1463.6,1022.2 1466.5,1023.2 C1469.5,1024.2 1469.9,1022.9 1471.6,1023.8 C1473.2,1024.8 1475.1,1028.0 1476.6,1028.8 C1478.1,1029.7 1478.9,1027.1 1480.4,1028.8 C1481.8,1030.6 1482.0,1037.8 1485.4,1039.5 C1488.7,1041.2 1496.9,1038.2 1500.5,1039.1 C1504.0,1040.0 1502.3,1044.1 1506.7,1044.9 C1511.1,1045.7 1522.2,1043.0 1526.8,1043.9 C1531.4,1044.8 1518.8,1049.1 1534.4,1050.2 C1549.9,1051.2 1603.8,1050.2 1620.0,1050.2 C1636.1,1050.2 1628.9,1050.4 1631.2,1050.3 C1633.6,1050.3 1632.9,1050.6 1634.0,1049.7 C1635.0,1048.7 1636.0,1045.5 1637.4,1044.5 C1638.8,1043.6 1640.3,1043.9 1642.2,1043.8 C1644.1,1043.8 1647.5,1044.1 1649.0,1044.3 C1650.6,1044.5 1651.0,1044.8 1651.4,1044.9" fill="none" stroke="#0000ff" stroke-width="2" stroke-linejoin="round"/>
<path d="M57.5,1066.4 C59.0,1066.4 64.1,1065.5 66.3,1066.4 C68.5,1067.4 69.4,1071.2 70.7,1072.1 C72.0,1072.9 63.7,1071.4 73.8,1071.4 C84.0,1071.4 121.1,1073.0 131.6,1072.1 C142.1,1071.1 132.2,1066.7 136.6,1065.8 C141.0,1064.8 153.6,1067.3 158.0,1066.4 C162.4,1065.6 158.6,1061.7 163.0,1060.8 C167.4,1059.8 179.3,1061.7 184.3,1060.8 C189.4,1059.8 188.1,1056.1 193.1,1055.1 C198.1,1054.2 209.4,1056.0 214.5,1055.1 C219.5,1054.3 220.7,1050.9 223.3,1050.1 C225.8,1049.3 226.6,1051.0 229.5,1050.1 C232.5,1049.1 235.8,1045.4 240.8,1044.4 C245.9,1043.5 255.1,1045.3 259.7,1044.4 C264.3,1043.6 266.4,1040.3 268.5,1039.4 C270.6,1038.6 271.1,1038.9 272.2,1039.4 C273.3,1039.9 274.2,1041.7 275.0,1042.6 C275.8,1043.4 274.6,1044.1 276.9,1044.4 C279.2,1044.8 284.3,1043.5 288.8,1044.4 C293.3,1045.4 295.7,1049.1 303.9,1050.1 C312.1,1051.0 330.1,1049.1 337.8,1050.1 C345.5,1051.0 329.4,1054.8 350.4,1055.7 C371.3,1056.7 443.7,1055.0 463.4,1055.7 C483.0,1056.5 464.6,1058.5 468.4,1060.1 C472.2,1061.8 482.4,1064.5 486.0,1065.8 C489.6,1067.0 489.1,1065.3 490.0,1067.7 C490.9,1070.1 490.3,1076.6 491.4,1080.2 C492.5,1083.7 494.9,1086.7 496.4,1089.0 C497.9,1091.3 498.9,1091.5 500.2,1094.0 C501.4,1096.5 501.6,1101.8 503.9,1104.0 C506.2,1106.2 511.7,1106.2 514.0,1107.2 C516.3,1108.1 516.5,1107.7 517.8,1109.7 C519.0,1111.7 519.4,1115.7 521.5,1119.1 C523.6,1122.6 528.0,1128.5 530.3,1130.4 C532.6,1132.3 532.6,1129.6 535.3,1130.4 C538.1,1131.2 543.3,1134.5 546.6,1135.4 C550.0,1136.4 549.8,1136.0 555.4,1136.1 C561.1,1136.2 575.3,1137.0 580.5,1136.1 C585.8,1135.1 584.9,1131.3 586.8,1130.4 C588.7,1129.5 590.4,1131.2 591.8,1130.4 C593.3,1129.6 590.8,1126.2 595.6,1125.4 C600.4,1124.5 615.7,1126.3 620.7,1125.4 C625.7,1124.4 623.2,1120.8 625.7,1119.7 C628.3,1118.7 633.3,1119.0 635.8,1119.1 C638.3,1119.2 638.5,1118.5 640.8,1120.4 C643.1,1122.2 644.2,1128.7 649.6,1130.4 C655.0,1132.1 668.4,1131.2 673.5,1130.4 C678.5,1129.6 678.8,1126.3 680.0,1125.4 C681.2,1124.5 679.8,1124.8 680.5,1124.8 C681.3,1124.9 683.1,1126.3 684.3,1125.5 C685.6,1124.6 685.1,1120.8 688.1,1119.8 C691.0,1118.9 699.0,1120.8 701.9,1119.8 C704.8,1118.9 704.2,1115.1 705.7,1114.2 C707.1,1113.3 708.6,1116.1 710.7,1114.4 C712.8,1112.8 714.9,1105.8 718.2,1104.1 C721.6,1102.4 727.2,1106.0 730.8,1104.1 C734.3,1102.2 736.6,1094.7 739.6,1092.8 C742.5,1090.9 744.8,1093.6 748.3,1092.8 C751.9,1092.1 757.8,1090.2 760.9,1088.4 C764.0,1086.7 764.7,1083.1 767.2,1082.2 C769.7,1081.2 773.8,1083.7 776.0,1082.8 C778.1,1081.8 776.8,1077.4 780.0,1076.5 C783.2,1075.7 792.0,1077.8 795.1,1077.7 C798.3,1077.6 797.2,1077.9 798.9,1076.1 C800.6,1074.2 803.1,1069.4 805.2,1066.6 C807.3,1063.9 808.5,1062.3 811.4,1059.7 C814.4,1057.1 819.8,1053.7 822.7,1050.9 C825.7,1048.2 826.1,1047.1 829.0,1043.4 C831.9,1039.7 836.1,1032.3 840.3,1029.0 C844.5,1025.6 849.5,1027.0 854.1,1023.3 C858.7,1019.6 857.1,1009.4 867.9,1006.6 C878.8,1003.8 910.0,1005.6 919.4,1006.6 C928.8,1007.6 920.3,1011.6 924.4,1012.6 C928.6,1013.7 939.5,1014.8 944.5,1012.9 C949.6,1011.0 952.3,1003.3 954.6,1001.3 C956.9,999.4 956.7,1002.2 958.3,1001.3 C960.0,1000.5 961.1,996.9 964.6,996.1 C968.2,995.2 976.1,995.3 979.7,996.3 C983.3,997.3 984.3,1001.1 986.0,1002.0 C987.7,1002.9 988.9,1001.6 990.0,1001.6 C991.1,1001.6 989.6,1000.9 992.6,1001.9 C995.5,1002.9 1002.4,1003.1 1007.6,1007.5 C1012.9,1011.9 1019.1,1024.0 1023.9,1028.3 C1028.8,1032.5 1033.4,1031.4 1036.5,1033.3 C1039.6,1035.2 1041.1,1038.6 1042.8,1039.6 C1044.5,1040.5 1045.1,1038.1 1046.5,1038.9 C1048.0,1039.8 1047.4,1043.6 1051.6,1044.6 C1055.8,1045.5 1067.3,1043.6 1071.7,1044.6 C1076.1,1045.5 1071.7,1049.3 1077.9,1050.2 C1084.2,1051.2 1103.5,1049.4 1109.3,1050.2 C1115.2,1051.1 1109.5,1054.4 1113.1,1055.2 C1116.7,1056.1 1125.4,1055.1 1130.7,1055.2 C1135.9,1055.4 1141.6,1054.9 1144.5,1055.9 C1147.4,1056.9 1140.1,1060.4 1148.3,1061.3 C1156.4,1062.2 1184.8,1062.3 1193.5,1061.3 C1202.1,1060.3 1198.7,1056.4 1200.0,1055.2 C1201.3,1054.1 1196.3,1054.5 1201.3,1054.6 C1206.3,1054.6 1224.5,1056.2 1230.2,1055.5 C1235.8,1054.7 1233.3,1050.9 1235.2,1049.9 C1237.1,1048.9 1238.6,1050.5 1241.5,1049.6 C1244.4,1048.7 1250.3,1045.4 1252.8,1044.5 C1255.3,1043.7 1254.9,1045.5 1256.5,1044.5 C1258.2,1043.6 1250.5,1039.7 1262.8,1038.9 C1275.2,1038.0 1317.2,1039.3 1330.6,1039.5 C1344.0,1039.7 1340.1,1040.8 1343.2,1039.9 C1346.3,1038.9 1342.8,1034.9 1349.5,1033.9 C1356.2,1032.9 1376.7,1034.8 1383.4,1033.9 C1390.1,1032.9 1385.2,1029.1 1389.6,1028.2 C1394.1,1027.3 1406.0,1028.5 1410.0,1028.6 C1414.0,1028.7 1412.1,1029.8 1413.8,1028.8 C1415.5,1027.9 1414.2,1023.7 1420.1,1022.8 C1426.0,1021.9 1443.1,1024.2 1449.0,1023.2 C1454.8,1022.2 1452.5,1018.0 1455.2,1016.9 C1458.0,1015.9 1462.4,1015.9 1465.3,1016.9 C1468.2,1018.0 1470.3,1022.1 1472.8,1023.2 C1475.3,1024.2 1478.1,1022.2 1480.4,1023.2 C1482.7,1024.1 1483.1,1028.0 1486.6,1028.8 C1490.2,1029.7 1498.4,1027.4 1501.7,1028.2 C1505.1,1029.0 1505.3,1032.9 1506.7,1033.9 C1508.2,1034.8 1509.0,1032.9 1510.5,1033.9 C1512.0,1034.8 1512.0,1038.6 1515.5,1039.5 C1519.1,1040.4 1528.3,1038.2 1531.8,1039.1 C1535.4,1040.0 1532.5,1044.1 1536.9,1044.9 C1541.3,1045.7 1553.8,1043.3 1558.2,1044.2 C1562.6,1045.0 1552.9,1049.2 1563.2,1050.2 C1573.5,1051.2 1605.3,1050.2 1620.0,1050.2 C1634.7,1050.2 1646.2,1050.0 1651.4,1050.0" fill="none" stroke="#ff0000" stroke-width="2" stroke-linejoin="round"/>
</svg>
<svg width="1752" height="1196" style="position:absolute;left:0;top:0;will-change:transform"><text x="55.7" y="23.3" text-anchor="end" style="font-family:'DejaVu Sans',sans-serif;font-size:13px;fill:#444;letter-spacing:0.5px" >4.4</text><text x="55.7" y="108.17500000000007" text-anchor="end" style="font-family:'DejaVu Sans',sans-serif;font-size:13px;fill:#444;letter-spacing:0.5px" >4.2</text><text x="55.7" y="193.05000000000015" text-anchor="end" style="font-family:'DejaVu Sans',sans-serif;font-size:13px;fill:#444;letter-spacing:0.5px" >4</text><text x="55.7" y="277.92500000000024" text-anchor="end" style="font-family:'DejaVu Sans',sans-serif;font-size:13px;fill:#444;letter-spacing:0.5px" >3.8</text><text x="55.7" y="362.8000000000001" text-anchor="end" style="font-family:'DejaVu Sans',sans-serif;font-size:13px;fill:#444;letter-spacing:0.5px" >3.6</text><text x="55.7" y="447.6750000000002" text-anchor="end" style="font-family:'DejaVu Sans',sans-serif;font-size:13px;fill:#444;letter-spacing:0.5px" >3.4</text><text x="55.7" y="532.55" text-anchor="end" style="font-family:'DejaVu Sans',sans-serif;font-size:13px;fill:#444;letter-spacing:0.5px" >3.2</text><text x="55.7" y="617.4250000000001" text-anchor="end" style="font-family:'DejaVu Sans',sans-serif;font-size:13px;fill:#444;letter-spacing:0.5px" >3</text><text x="55.7" y="702.3000000000002" text-anchor="end" style="font-family:'DejaVu Sans',sans-serif;font-size:13px;fill:#444;letter-spacing:0.5px" >2.8</text><text x="55.7" y="933.1" text-anchor="end" style="font-family:'DejaVu Sans',sans-serif;font-size:13px;fill:#444;letter-spacing:0.5px" >0</text><text x="55.7" y="891.1" text-anchor="end" style="font-family:'DejaVu Sans',sans-serif;font-size:13px;fill:#444;letter-spacing:0.5px" >100k</text><text x="55.7" y="849.1" text-anchor="end" style="font-family:'DejaVu Sans',sans-serif;font-size:13px;fill:#444;letter-spacing:0.5px" >200k</text><text x="55.7" y="807.1" text-anchor="end" style="font-family:'DejaVu Sans',sans-serif;font-size:13px;fill:#444;letter-spacing:0.5px" >300k</text><text x="55.7" y="1001.4300000000001" text-anchor="end" style="font-family:'DejaVu Sans',sans-serif;font-size:13px;fill:#444;letter-spacing:0.5px" >0.1</text><text x="55.7" y="1055.1" text-anchor="end" style="font-family:'DejaVu Sans',sans-serif;font-size:13px;fill:#444;letter-spacing:0.5px" >0</text><text x="55.7" y="1108.77" text-anchor="end" style="font-family:'DejaVu Sans',sans-serif;font-size:13px;fill:#444;letter-spacing:0.5px" >−0.1</text><text x="55.7" y="1162.4399999999998" text-anchor="end" style="font-family:'DejaVu Sans',sans-serif;font-size:13px;fill:#444;letter-spacing:0.5px" >−0.2</text><text x="219.0" y="738.5" text-anchor="middle" style="font-family:'DejaVu Sans',sans-serif;font-size:13px;fill:#444;letter-spacing:0.35px" >Jan 2025</text><text x="477.3" y="738.5" text-anchor="middle" style="font-family:'DejaVu Sans',sans-serif;font-size:13px;fill:#444;letter-spacing:0.35px" >Mar 2025</text><text x="744.5" y="738.5" text-anchor="middle" style="font-family:'DejaVu Sans',sans-serif;font-size:13px;fill:#444;letter-spacing:0.35px" >May 2025</text><text x="1011.6" y="738.5" text-anchor="middle" style="font-family:'DejaVu Sans',sans-serif;font-size:13px;fill:#444;letter-spacing:0.35px" >Jul 2025</text><text x="1283.1" y="738.5" text-anchor="middle" style="font-family:'DejaVu Sans',sans-serif;font-size:13px;fill:#444;letter-spacing:0.35px" >Sep 2025</text><text x="1550.3" y="738.5" text-anchor="middle" style="font-family:'DejaVu Sans',sans-serif;font-size:13px;fill:#444;letter-spacing:0.35px" >Nov 2025</text><text x="0" y="0" text-anchor="middle" transform="translate(18,367.5) rotate(-90)" style="font-family:'DejaVu Sans',sans-serif;font-size:15.5px;fill:#444">Price</text><text x="0" y="0" text-anchor="middle" transform="translate(18,854) rotate(-90)" style="font-family:'DejaVu Sans',sans-serif;font-size:15.5px;fill:#444">Volume</text><text x="0" y="0" text-anchor="middle" transform="translate(18,1066) rotate(-90)" style="font-family:'DejaVu Sans',sans-serif;font-size:15.5px;fill:#444">MACD</text></svg></body></html>
